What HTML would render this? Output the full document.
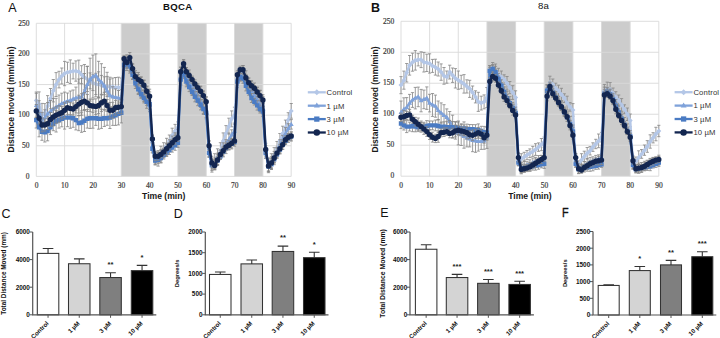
<!DOCTYPE html><html><head><meta charset="utf-8"><style>html,body{margin:0;padding:0;background:#fff;}svg{display:block;}</style></head><body>
<svg width="720" height="338" viewBox="0 0 720 338">
<rect width="720" height="338" fill="#fff"/>
<text x="8.3" y="12.1" font-family='"Liberation Sans", sans-serif' font-size="12.5" font-weight="normal" fill="#111">A</text>
<text x="177.8" y="10.3" font-family='"Liberation Sans", sans-serif' font-size="9.6" font-weight="bold" fill="#111" text-anchor="middle" letter-spacing="0.3">BQCA</text>
<rect x="121.26" y="23.30" width="28.32" height="153.10" fill="#cccccc"/>
<rect x="177.90" y="23.30" width="28.32" height="153.10" fill="#cccccc"/>
<rect x="234.54" y="23.30" width="28.32" height="153.10" fill="#cccccc"/>
<line x1="36.30" y1="176.40" x2="291.18" y2="176.40" stroke="#d9d9d9" stroke-width="0.9"/>
<line x1="36.30" y1="145.78" x2="291.18" y2="145.78" stroke="#d9d9d9" stroke-width="0.9"/>
<line x1="36.30" y1="115.16" x2="291.18" y2="115.16" stroke="#d9d9d9" stroke-width="0.9"/>
<line x1="36.30" y1="84.54" x2="291.18" y2="84.54" stroke="#d9d9d9" stroke-width="0.9"/>
<line x1="36.30" y1="53.92" x2="291.18" y2="53.92" stroke="#d9d9d9" stroke-width="0.9"/>
<line x1="36.30" y1="23.30" x2="291.18" y2="23.30" stroke="#d9d9d9" stroke-width="0.9"/>
<line x1="36.30" y1="176.40" x2="36.30" y2="23.30" stroke="#d9d9d9" stroke-width="0.9"/>
<line x1="64.62" y1="176.40" x2="64.62" y2="23.30" stroke="#d9d9d9" stroke-width="0.9"/>
<line x1="92.94" y1="176.40" x2="92.94" y2="23.30" stroke="#d9d9d9" stroke-width="0.9"/>
<line x1="121.26" y1="176.40" x2="121.26" y2="23.30" stroke="#d9d9d9" stroke-width="0.9"/>
<line x1="149.58" y1="176.40" x2="149.58" y2="23.30" stroke="#d9d9d9" stroke-width="0.9"/>
<line x1="177.90" y1="176.40" x2="177.90" y2="23.30" stroke="#d9d9d9" stroke-width="0.9"/>
<line x1="206.22" y1="176.40" x2="206.22" y2="23.30" stroke="#d9d9d9" stroke-width="0.9"/>
<line x1="234.54" y1="176.40" x2="234.54" y2="23.30" stroke="#d9d9d9" stroke-width="0.9"/>
<line x1="262.86" y1="176.40" x2="262.86" y2="23.30" stroke="#d9d9d9" stroke-width="0.9"/>
<line x1="291.18" y1="176.40" x2="291.18" y2="23.30" stroke="#d9d9d9" stroke-width="0.9"/>
<text x="29.50" y="178.60" font-family='"Liberation Serif", serif' font-size="8.6" fill="#3a3a3a" stroke="#3a3a3a" stroke-width="0.22" text-anchor="end" textLength="3.75" lengthAdjust="spacingAndGlyphs">0</text>
<text x="29.50" y="147.98" font-family='"Liberation Serif", serif' font-size="8.6" fill="#3a3a3a" stroke="#3a3a3a" stroke-width="0.22" text-anchor="end" textLength="7.50" lengthAdjust="spacingAndGlyphs">50</text>
<text x="29.50" y="117.36" font-family='"Liberation Serif", serif' font-size="8.6" fill="#3a3a3a" stroke="#3a3a3a" stroke-width="0.22" text-anchor="end" textLength="11.25" lengthAdjust="spacingAndGlyphs">100</text>
<text x="29.50" y="86.74" font-family='"Liberation Serif", serif' font-size="8.6" fill="#3a3a3a" stroke="#3a3a3a" stroke-width="0.22" text-anchor="end" textLength="11.25" lengthAdjust="spacingAndGlyphs">150</text>
<text x="29.50" y="56.12" font-family='"Liberation Serif", serif' font-size="8.6" fill="#3a3a3a" stroke="#3a3a3a" stroke-width="0.22" text-anchor="end" textLength="11.25" lengthAdjust="spacingAndGlyphs">200</text>
<text x="29.50" y="25.50" font-family='"Liberation Serif", serif' font-size="8.6" fill="#3a3a3a" stroke="#3a3a3a" stroke-width="0.22" text-anchor="end" textLength="11.25" lengthAdjust="spacingAndGlyphs">250</text>
<text x="36.50" y="187.80" font-family='"Liberation Serif", serif' font-size="8.6" fill="#3a3a3a" stroke="#3a3a3a" stroke-width="0.22" text-anchor="middle" textLength="3.75" lengthAdjust="spacingAndGlyphs">0</text>
<text x="64.82" y="187.80" font-family='"Liberation Serif", serif' font-size="8.6" fill="#3a3a3a" stroke="#3a3a3a" stroke-width="0.22" text-anchor="middle" textLength="7.50" lengthAdjust="spacingAndGlyphs">10</text>
<text x="93.14" y="187.80" font-family='"Liberation Serif", serif' font-size="8.6" fill="#3a3a3a" stroke="#3a3a3a" stroke-width="0.22" text-anchor="middle" textLength="7.50" lengthAdjust="spacingAndGlyphs">20</text>
<text x="121.46" y="187.80" font-family='"Liberation Serif", serif' font-size="8.6" fill="#3a3a3a" stroke="#3a3a3a" stroke-width="0.22" text-anchor="middle" textLength="7.50" lengthAdjust="spacingAndGlyphs">30</text>
<text x="149.78" y="187.80" font-family='"Liberation Serif", serif' font-size="8.6" fill="#3a3a3a" stroke="#3a3a3a" stroke-width="0.22" text-anchor="middle" textLength="7.50" lengthAdjust="spacingAndGlyphs">40</text>
<text x="178.10" y="187.80" font-family='"Liberation Serif", serif' font-size="8.6" fill="#3a3a3a" stroke="#3a3a3a" stroke-width="0.22" text-anchor="middle" textLength="7.50" lengthAdjust="spacingAndGlyphs">50</text>
<text x="206.42" y="187.80" font-family='"Liberation Serif", serif' font-size="8.6" fill="#3a3a3a" stroke="#3a3a3a" stroke-width="0.22" text-anchor="middle" textLength="7.50" lengthAdjust="spacingAndGlyphs">60</text>
<text x="234.74" y="187.80" font-family='"Liberation Serif", serif' font-size="8.6" fill="#3a3a3a" stroke="#3a3a3a" stroke-width="0.22" text-anchor="middle" textLength="7.50" lengthAdjust="spacingAndGlyphs">70</text>
<text x="263.06" y="187.80" font-family='"Liberation Serif", serif' font-size="8.6" fill="#3a3a3a" stroke="#3a3a3a" stroke-width="0.22" text-anchor="middle" textLength="7.50" lengthAdjust="spacingAndGlyphs">80</text>
<text x="291.38" y="187.80" font-family='"Liberation Serif", serif' font-size="8.6" fill="#3a3a3a" stroke="#3a3a3a" stroke-width="0.22" text-anchor="middle" textLength="7.50" lengthAdjust="spacingAndGlyphs">90</text>
<text x="163.74" y="199.2" font-family='"Liberation Sans", sans-serif' font-size="8.6" font-weight="bold" fill="#1a1a1a" text-anchor="middle">Time (min)</text>
<text transform="translate(13.6,99.4) rotate(-90)" font-family='"Liberation Sans", sans-serif' font-size="8.7" font-weight="bold" fill="#1a1a1a" text-anchor="middle" textLength="106" lengthAdjust="spacingAndGlyphs">Distance moved (mm/min)</text>
<path d="M36.3,109.0V92.0M34.7,92.0h3.2M34.7,109.0h3.2M39.1,116.4V91.9M37.5,91.9h3.2M37.5,116.4h3.2M42.0,126.9V103.4M40.4,103.4h3.2M40.4,126.9h3.2M44.8,121.8V103.6M43.2,103.6h3.2M43.2,121.8h3.2M47.6,116.4V95.6M46.0,95.6h3.2M46.0,116.4h3.2M50.5,108.8V88.5M48.9,88.5h3.2M48.9,108.8h3.2M53.3,101.9V79.5M51.7,79.5h3.2M51.7,101.9h3.2M56.1,96.5V72.6M54.5,72.6h3.2M54.5,96.5h3.2M59.0,87.9V71.3M57.4,71.3h3.2M57.4,87.9h3.2M61.8,83.9V68.0M60.2,68.0h3.2M60.2,83.9h3.2M64.6,85.7V61.4M63.0,61.4h3.2M63.0,85.7h3.2M67.5,82.4V62.2M65.9,62.2h3.2M65.9,82.4h3.2M70.3,83.5V59.9M68.7,59.9h3.2M68.7,83.5h3.2M73.1,78.9V63.2M71.5,63.2h3.2M71.5,78.9h3.2M75.9,81.2V60.9M74.3,60.9h3.2M74.3,81.2h3.2M78.8,83.2V60.1M77.2,60.1h3.2M77.2,83.2h3.2M81.6,83.7V65.7M80.0,65.7h3.2M80.0,83.7h3.2M84.4,89.9V64.5M82.8,64.5h3.2M82.8,89.9h3.2M87.3,91.5V66.5M85.7,66.5h3.2M85.7,91.5h3.2M90.1,88.8V72.9M88.5,72.9h3.2M88.5,88.8h3.2M92.9,90.6V74.8M91.3,74.8h3.2M91.3,90.6h3.2M95.8,94.6V73.3M94.2,73.3h3.2M94.2,94.6h3.2M98.6,97.2V71.8M97.0,71.8h3.2M97.0,97.2h3.2M101.4,94.9V75.4M99.8,75.4h3.2M99.8,94.9h3.2M104.3,94.7V76.8M102.7,76.8h3.2M102.7,94.7h3.2M107.1,96.4V76.4M105.5,76.4h3.2M105.5,96.4h3.2M109.9,94.9V79.0M108.3,79.0h3.2M108.3,94.9h3.2M112.8,96.0V78.0M111.2,78.0h3.2M111.2,96.0h3.2M115.6,97.7V77.5M114.0,77.5h3.2M114.0,97.7h3.2M118.4,98.0V77.2M116.8,77.2h3.2M116.8,98.0h3.2M121.3,96.0V78.0M119.7,78.0h3.2M119.7,96.0h3.2M124.1,67.8V57.2M122.5,57.2h3.2M122.5,67.8h3.2M126.9,65.3V54.8M125.3,54.8h3.2M125.3,65.3h3.2M129.8,67.3V55.3M128.2,55.3h3.2M128.2,67.3h3.2M132.6,74.7V63.7M131.0,63.7h3.2M131.0,74.7h3.2M135.4,80.0V70.7M133.8,70.7h3.2M133.8,80.0h3.2M138.3,86.8V72.5M136.7,72.5h3.2M136.7,86.8h3.2M141.1,89.6V77.0M139.5,77.0h3.2M139.5,89.6h3.2M143.9,93.5V80.4M142.3,80.4h3.2M142.3,93.5h3.2M146.7,97.1V86.7M145.1,86.7h3.2M145.1,97.1h3.2M149.6,104.4V89.2M148.0,89.2h3.2M148.0,104.4h3.2M152.4,149.9V135.5M150.8,135.5h3.2M150.8,149.9h3.2M155.2,163.0V153.1M153.6,153.1h3.2M153.6,163.0h3.2M158.1,161.8V150.6M156.5,150.6h3.2M156.5,161.8h3.2M160.9,159.9V146.3M159.3,146.3h3.2M159.3,159.9h3.2M163.7,156.2V142.7M162.1,142.7h3.2M162.1,156.2h3.2M166.6,153.2V138.3M165.0,138.3h3.2M165.0,153.2h3.2M169.4,146.8V135.0M167.8,135.0h3.2M167.8,146.8h3.2M172.2,142.5V128.2M170.6,128.2h3.2M170.6,142.5h3.2M175.1,137.7V124.4M173.5,124.4h3.2M173.5,137.7h3.2M177.9,132.9V121.9M176.3,121.9h3.2M176.3,132.9h3.2M180.7,79.9V67.1M179.1,67.1h3.2M179.1,79.9h3.2M183.6,74.7V60.1M182.0,60.1h3.2M182.0,74.7h3.2M186.4,81.9V67.6M184.8,67.6h3.2M184.8,81.9h3.2M189.2,84.6V72.3M187.6,72.3h3.2M187.6,84.6h3.2M192.1,89.7V76.9M190.5,76.9h3.2M190.5,89.7h3.2M194.9,91.1V81.7M193.3,81.7h3.2M193.3,91.1h3.2M197.7,94.8V84.1M196.1,84.1h3.2M196.1,94.8h3.2M200.6,100.1V86.1M199.0,86.1h3.2M199.0,100.1h3.2M203.4,102.6V90.9M201.8,90.9h3.2M201.8,102.6h3.2M206.2,106.8V96.6M204.6,96.6h3.2M204.6,106.8h3.2M209.1,156.8V140.9M207.5,140.9h3.2M207.5,156.8h3.2M211.9,172.1V156.2M210.3,156.2h3.2M210.3,172.1h3.2M214.7,169.7V153.7M213.1,153.7h3.2M213.1,169.7h3.2M217.5,164.8V148.8M215.9,148.8h3.2M215.9,164.8h3.2M220.4,158.6V142.7M218.8,142.7h3.2M218.8,158.6h3.2M223.2,148.8V132.9M221.6,132.9h3.2M221.6,148.8h3.2M226.0,141.5V125.6M224.4,125.6h3.2M224.4,141.5h3.2M228.9,134.1V118.2M227.3,118.2h3.2M227.3,134.1h3.2M231.7,126.8V110.9M230.1,110.9h3.2M230.1,126.8h3.2M234.5,123.1V107.2M232.9,107.2h3.2M232.9,123.1h3.2M237.4,83.1V73.7M235.8,73.7h3.2M235.8,83.1h3.2M240.2,77.0V67.6M238.6,67.6h3.2M238.6,77.0h3.2M243.0,79.0V65.5M241.4,65.5h3.2M241.4,79.0h3.2M245.9,86.0V70.8M244.3,70.8h3.2M244.3,86.0h3.2M248.7,90.9V78.1M247.1,78.1h3.2M247.1,90.9h3.2M251.5,93.4V81.8M249.9,81.8h3.2M249.9,93.4h3.2M254.4,95.8V85.5M252.8,85.5h3.2M252.8,95.8h3.2M257.2,99.9V87.6M255.6,87.6h3.2M255.6,99.9h3.2M260.0,105.6V90.4M258.4,90.4h3.2M258.4,105.6h3.2M262.9,108.6V94.7M261.3,94.7h3.2M261.3,108.6h3.2M265.7,158.0V143.3M264.1,143.3h3.2M264.1,158.0h3.2M268.5,172.7V158.0M266.9,158.0h3.2M266.9,172.7h3.2M271.4,168.4V153.7M269.8,153.7h3.2M269.8,168.4h3.2M274.2,162.3V147.6M272.6,147.6h3.2M272.6,162.3h3.2M277.0,156.2V141.5M275.4,141.5h3.2M275.4,156.2h3.2M279.9,148.2V133.5M278.3,133.5h3.2M278.3,148.2h3.2M282.7,140.9V126.2M281.1,126.2h3.2M281.1,140.9h3.2M285.5,134.8V120.1M283.9,120.1h3.2M283.9,134.8h3.2M288.3,127.4V112.7M286.7,112.7h3.2M286.7,127.4h3.2M291.2,118.2V103.5M289.6,103.5h3.2M289.6,118.2h3.2" stroke="#858585" stroke-width="0.8" fill="none"/>
<polyline points="36.3,100.5 39.1,104.1 42.0,115.2 44.8,112.7 47.6,106.0 50.5,98.6 53.3,90.7 56.1,84.5 59.0,79.6 61.8,76.0 64.6,73.5 67.5,72.3 70.3,71.7 73.1,71.1 75.9,71.1 78.8,71.7 81.6,74.7 84.4,77.2 87.3,79.0 90.1,80.9 92.9,82.7 95.8,83.9 98.6,84.5 101.4,85.2 104.3,85.8 107.1,86.4 109.9,87.0 112.8,87.0 115.6,87.6 118.4,87.6 121.3,87.0 124.1,62.5 126.9,60.0 129.8,61.3 132.6,69.2 135.4,75.4 138.3,79.6 141.1,83.3 143.9,87.0 146.7,91.9 149.6,96.8 152.4,142.7 155.2,158.0 158.1,156.2 160.9,153.1 163.7,149.5 166.6,145.8 169.4,140.9 172.2,135.4 175.1,131.1 177.9,127.4 180.7,73.5 183.6,67.4 186.4,74.7 189.2,78.4 192.1,83.3 194.9,86.4 197.7,89.4 200.6,93.1 203.4,96.8 206.2,101.7 209.1,148.8 211.9,164.2 214.7,161.7 217.5,156.8 220.4,150.7 223.2,140.9 226.0,133.5 228.9,126.2 231.7,118.8 234.5,115.2 237.4,78.4 240.2,72.3 243.0,72.3 245.9,78.4 248.7,84.5 251.5,87.6 254.4,90.7 257.2,93.7 260.0,98.0 262.9,101.7 265.7,150.7 268.5,165.4 271.4,161.1 274.2,155.0 277.0,148.8 279.9,140.9 282.7,133.5 285.5,127.4 288.3,120.1 291.2,110.9" fill="none" stroke="#b4c7e7" stroke-width="2.4" stroke-linejoin="round"/>
<path d="M36.3,98.0l2.5,2.5l-2.5,2.5l-2.5,-2.5zM39.1,101.6l2.5,2.5l-2.5,2.5l-2.5,-2.5zM42.0,112.7l2.5,2.5l-2.5,2.5l-2.5,-2.5zM44.8,110.2l2.5,2.5l-2.5,2.5l-2.5,-2.5zM47.6,103.5l2.5,2.5l-2.5,2.5l-2.5,-2.5zM50.5,96.1l2.5,2.5l-2.5,2.5l-2.5,-2.5zM53.3,88.2l2.5,2.5l-2.5,2.5l-2.5,-2.5zM56.1,82.0l2.5,2.5l-2.5,2.5l-2.5,-2.5zM59.0,77.1l2.5,2.5l-2.5,2.5l-2.5,-2.5zM61.8,73.5l2.5,2.5l-2.5,2.5l-2.5,-2.5zM64.6,71.0l2.5,2.5l-2.5,2.5l-2.5,-2.5zM67.5,69.8l2.5,2.5l-2.5,2.5l-2.5,-2.5zM70.3,69.2l2.5,2.5l-2.5,2.5l-2.5,-2.5zM73.1,68.6l2.5,2.5l-2.5,2.5l-2.5,-2.5zM75.9,68.6l2.5,2.5l-2.5,2.5l-2.5,-2.5zM78.8,69.2l2.5,2.5l-2.5,2.5l-2.5,-2.5zM81.6,72.2l2.5,2.5l-2.5,2.5l-2.5,-2.5zM84.4,74.7l2.5,2.5l-2.5,2.5l-2.5,-2.5zM87.3,76.5l2.5,2.5l-2.5,2.5l-2.5,-2.5zM90.1,78.4l2.5,2.5l-2.5,2.5l-2.5,-2.5zM92.9,80.2l2.5,2.5l-2.5,2.5l-2.5,-2.5zM95.8,81.4l2.5,2.5l-2.5,2.5l-2.5,-2.5zM98.6,82.0l2.5,2.5l-2.5,2.5l-2.5,-2.5zM101.4,82.7l2.5,2.5l-2.5,2.5l-2.5,-2.5zM104.3,83.3l2.5,2.5l-2.5,2.5l-2.5,-2.5zM107.1,83.9l2.5,2.5l-2.5,2.5l-2.5,-2.5zM109.9,84.5l2.5,2.5l-2.5,2.5l-2.5,-2.5zM112.8,84.5l2.5,2.5l-2.5,2.5l-2.5,-2.5zM115.6,85.1l2.5,2.5l-2.5,2.5l-2.5,-2.5zM118.4,85.1l2.5,2.5l-2.5,2.5l-2.5,-2.5zM121.3,84.5l2.5,2.5l-2.5,2.5l-2.5,-2.5zM124.1,60.0l2.5,2.5l-2.5,2.5l-2.5,-2.5zM126.9,57.5l2.5,2.5l-2.5,2.5l-2.5,-2.5zM129.8,58.8l2.5,2.5l-2.5,2.5l-2.5,-2.5zM132.6,66.7l2.5,2.5l-2.5,2.5l-2.5,-2.5zM135.4,72.9l2.5,2.5l-2.5,2.5l-2.5,-2.5zM138.3,77.1l2.5,2.5l-2.5,2.5l-2.5,-2.5zM141.1,80.8l2.5,2.5l-2.5,2.5l-2.5,-2.5zM143.9,84.5l2.5,2.5l-2.5,2.5l-2.5,-2.5zM146.7,89.4l2.5,2.5l-2.5,2.5l-2.5,-2.5zM149.6,94.3l2.5,2.5l-2.5,2.5l-2.5,-2.5zM152.4,140.2l2.5,2.5l-2.5,2.5l-2.5,-2.5zM155.2,155.5l2.5,2.5l-2.5,2.5l-2.5,-2.5zM158.1,153.7l2.5,2.5l-2.5,2.5l-2.5,-2.5zM160.9,150.6l2.5,2.5l-2.5,2.5l-2.5,-2.5zM163.7,147.0l2.5,2.5l-2.5,2.5l-2.5,-2.5zM166.6,143.3l2.5,2.5l-2.5,2.5l-2.5,-2.5zM169.4,138.4l2.5,2.5l-2.5,2.5l-2.5,-2.5zM172.2,132.9l2.5,2.5l-2.5,2.5l-2.5,-2.5zM175.1,128.6l2.5,2.5l-2.5,2.5l-2.5,-2.5zM177.9,124.9l2.5,2.5l-2.5,2.5l-2.5,-2.5zM180.7,71.0l2.5,2.5l-2.5,2.5l-2.5,-2.5zM183.6,64.9l2.5,2.5l-2.5,2.5l-2.5,-2.5zM186.4,72.2l2.5,2.5l-2.5,2.5l-2.5,-2.5zM189.2,75.9l2.5,2.5l-2.5,2.5l-2.5,-2.5zM192.1,80.8l2.5,2.5l-2.5,2.5l-2.5,-2.5zM194.9,83.9l2.5,2.5l-2.5,2.5l-2.5,-2.5zM197.7,86.9l2.5,2.5l-2.5,2.5l-2.5,-2.5zM200.6,90.6l2.5,2.5l-2.5,2.5l-2.5,-2.5zM203.4,94.3l2.5,2.5l-2.5,2.5l-2.5,-2.5zM206.2,99.2l2.5,2.5l-2.5,2.5l-2.5,-2.5zM209.1,146.3l2.5,2.5l-2.5,2.5l-2.5,-2.5zM211.9,161.7l2.5,2.5l-2.5,2.5l-2.5,-2.5zM214.7,159.2l2.5,2.5l-2.5,2.5l-2.5,-2.5zM217.5,154.3l2.5,2.5l-2.5,2.5l-2.5,-2.5zM220.4,148.2l2.5,2.5l-2.5,2.5l-2.5,-2.5zM223.2,138.4l2.5,2.5l-2.5,2.5l-2.5,-2.5zM226.0,131.0l2.5,2.5l-2.5,2.5l-2.5,-2.5zM228.9,123.7l2.5,2.5l-2.5,2.5l-2.5,-2.5zM231.7,116.3l2.5,2.5l-2.5,2.5l-2.5,-2.5zM234.5,112.7l2.5,2.5l-2.5,2.5l-2.5,-2.5zM237.4,75.9l2.5,2.5l-2.5,2.5l-2.5,-2.5zM240.2,69.8l2.5,2.5l-2.5,2.5l-2.5,-2.5zM243.0,69.8l2.5,2.5l-2.5,2.5l-2.5,-2.5zM245.9,75.9l2.5,2.5l-2.5,2.5l-2.5,-2.5zM248.7,82.0l2.5,2.5l-2.5,2.5l-2.5,-2.5zM251.5,85.1l2.5,2.5l-2.5,2.5l-2.5,-2.5zM254.4,88.2l2.5,2.5l-2.5,2.5l-2.5,-2.5zM257.2,91.2l2.5,2.5l-2.5,2.5l-2.5,-2.5zM260.0,95.5l2.5,2.5l-2.5,2.5l-2.5,-2.5zM262.9,99.2l2.5,2.5l-2.5,2.5l-2.5,-2.5zM265.7,148.2l2.5,2.5l-2.5,2.5l-2.5,-2.5zM268.5,162.9l2.5,2.5l-2.5,2.5l-2.5,-2.5zM271.4,158.6l2.5,2.5l-2.5,2.5l-2.5,-2.5zM274.2,152.5l2.5,2.5l-2.5,2.5l-2.5,-2.5zM277.0,146.3l2.5,2.5l-2.5,2.5l-2.5,-2.5zM279.9,138.4l2.5,2.5l-2.5,2.5l-2.5,-2.5zM282.7,131.0l2.5,2.5l-2.5,2.5l-2.5,-2.5zM285.5,124.9l2.5,2.5l-2.5,2.5l-2.5,-2.5zM288.3,117.6l2.5,2.5l-2.5,2.5l-2.5,-2.5zM291.2,108.4l2.5,2.5l-2.5,2.5l-2.5,-2.5z" fill="#b4c7e7"/>
<path d="M36.3,117.4V93.3M34.7,93.3h3.2M34.7,117.4h3.2M39.1,124.7V100.7M37.5,100.7h3.2M37.5,124.7h3.2M42.0,127.7V112.4M40.4,112.4h3.2M40.4,127.7h3.2M44.8,125.4V109.8M43.2,109.8h3.2M43.2,125.4h3.2M47.6,125.4V102.5M46.0,102.5h3.2M46.0,125.4h3.2M50.5,122.4V100.5M48.9,100.5h3.2M48.9,122.4h3.2M53.3,119.7V98.4M51.7,98.4h3.2M51.7,119.7h3.2M56.1,116.1V98.3M54.5,98.3h3.2M54.5,116.1h3.2M59.0,115.7V95.0M57.4,95.0h3.2M57.4,115.7h3.2M61.8,113.8V93.2M60.2,93.2h3.2M60.2,113.8h3.2M64.6,112.5V92.1M63.0,92.1h3.2M63.0,112.5h3.2M67.5,109.2V93.0M65.9,93.0h3.2M65.9,109.2h3.2M70.3,109.9V91.0M68.7,91.0h3.2M68.7,109.9h3.2M73.1,108.5V90.0M71.5,90.0h3.2M71.5,108.5h3.2M75.9,108.9V87.1M74.3,87.1h3.2M74.3,108.9h3.2M78.8,115.8V79.0M77.2,79.0h3.2M77.2,115.8h3.2M81.6,115.2V78.4M80.0,78.4h3.2M80.0,115.2h3.2M84.4,110.3V73.5M82.8,73.5h3.2M82.8,110.3h3.2M87.3,102.9V66.2M85.7,66.2h3.2M85.7,102.9h3.2M90.1,101.1V58.2M88.5,58.2h3.2M88.5,101.1h3.2M92.9,98.0V55.1M91.3,55.1h3.2M91.3,98.0h3.2M95.8,96.8V53.9M94.2,53.9h3.2M94.2,96.8h3.2M98.6,98.0V61.3M97.0,61.3h3.2M97.0,98.0h3.2M101.4,100.5V63.7M99.8,63.7h3.2M99.8,100.5h3.2M104.3,104.1V67.4M102.7,67.4h3.2M102.7,104.1h3.2M107.1,109.0V72.3M105.5,72.3h3.2M105.5,109.0h3.2M109.9,113.9V77.2M108.3,77.2h3.2M108.3,113.9h3.2M112.8,106.9V86.7M111.2,86.7h3.2M111.2,106.9h3.2M115.6,105.9V88.9M114.0,88.9h3.2M114.0,105.9h3.2M118.4,105.5V90.5M116.8,90.5h3.2M116.8,105.5h3.2M121.3,107.6V89.7M119.7,89.7h3.2M119.7,107.6h3.2M124.1,70.7V61.7M122.5,61.7h3.2M122.5,70.7h3.2M126.9,70.5V59.4M125.3,59.4h3.2M125.3,70.5h3.2M129.8,73.1V59.3M128.2,59.3h3.2M128.2,73.1h3.2M132.6,79.5V67.5M131.0,67.5h3.2M131.0,79.5h3.2M135.4,86.1V76.8M133.8,76.8h3.2M133.8,86.1h3.2M138.3,93.6V80.4M136.7,80.4h3.2M136.7,93.6h3.2M141.1,98.2V85.6M139.5,85.6h3.2M139.5,98.2h3.2M143.9,102.9V90.6M142.3,90.6h3.2M142.3,102.9h3.2M146.7,108.3V95.1M145.1,95.1h3.2M145.1,108.3h3.2M149.6,111.6V99.1M148.0,99.1h3.2M148.0,111.6h3.2M152.4,152.1V139.5M150.8,139.5h3.2M150.8,152.1h3.2M155.2,164.4V154.1M153.6,154.1h3.2M153.6,164.4h3.2M158.1,166.1V152.4M156.5,152.4h3.2M156.5,166.1h3.2M160.9,163.0V149.4M159.3,149.4h3.2M159.3,163.0h3.2M163.7,157.7V148.6M162.1,148.6h3.2M162.1,157.7h3.2M166.6,155.7V143.2M165.0,143.2h3.2M165.0,155.7h3.2M169.4,151.9V139.7M167.8,139.7h3.2M167.8,151.9h3.2M172.2,146.9V136.1M170.6,136.1h3.2M170.6,146.9h3.2M175.1,144.0V132.8M173.5,132.8h3.2M173.5,144.0h3.2M177.9,140.2V129.3M176.3,129.3h3.2M176.3,140.2h3.2M180.7,85.1V71.7M179.1,71.7h3.2M179.1,85.1h3.2M183.6,76.6V65.6M182.0,65.6h3.2M182.0,76.6h3.2M186.4,84.8V72.0M184.8,72.0h3.2M184.8,84.8h3.2M189.2,88.4V78.2M187.6,78.2h3.2M187.6,88.4h3.2M192.1,94.2V81.0M190.5,81.0h3.2M190.5,94.2h3.2M194.9,98.5V85.3M193.3,85.3h3.2M193.3,98.5h3.2M197.7,102.2V91.4M196.1,91.4h3.2M196.1,102.2h3.2M200.6,107.4V96.0M199.0,96.0h3.2M199.0,107.4h3.2M203.4,114.5V101.1M201.8,101.1h3.2M201.8,114.5h3.2M206.2,118.8V106.6M204.6,106.6h3.2M204.6,118.8h3.2M209.1,157.4V146.4M207.5,146.4h3.2M207.5,157.4h3.2M211.9,168.9V159.4M210.3,159.4h3.2M210.3,168.9h3.2M214.7,168.0V157.9M213.1,157.9h3.2M213.1,168.0h3.2M217.5,165.3V153.2M215.9,153.2h3.2M215.9,165.3h3.2M220.4,158.9V149.8M218.8,149.8h3.2M218.8,158.9h3.2M223.2,156.1V142.8M221.6,142.8h3.2M221.6,156.1h3.2M226.0,149.4V139.7M224.4,139.7h3.2M224.4,149.4h3.2M228.9,146.3V133.0M227.3,133.0h3.2M227.3,146.3h3.2M231.7,139.7V129.8M230.1,129.8h3.2M230.1,139.7h3.2M234.5,137.9V124.3M232.9,124.3h3.2M232.9,137.9h3.2M237.4,87.6V75.4M235.8,75.4h3.2M235.8,87.6h3.2M240.2,80.9V69.8M238.6,69.8h3.2M238.6,80.9h3.2M243.0,80.3V69.2M241.4,69.2h3.2M241.4,80.3h3.2M245.9,87.4V75.5M244.3,75.5h3.2M244.3,87.4h3.2M248.7,92.7V81.2M247.1,81.2h3.2M247.1,92.7h3.2M251.5,95.7V85.7M249.9,85.7h3.2M249.9,95.7h3.2M254.4,100.3V90.9M252.8,90.9h3.2M252.8,100.3h3.2M257.2,105.4V94.3M255.6,94.3h3.2M255.6,105.4h3.2M260.0,111.5V98.0M258.4,98.0h3.2M258.4,111.5h3.2M262.9,114.9V103.2M261.3,103.2h3.2M261.3,114.9h3.2M265.7,156.2V147.6M264.1,147.6h3.2M264.1,156.2h3.2M268.5,171.8V159.0M266.9,159.0h3.2M266.9,171.8h3.2M271.4,169.1V156.8M269.8,156.8h3.2M269.8,169.1h3.2M274.2,164.7V151.4M272.6,151.4h3.2M272.6,164.7h3.2M277.0,156.6V147.2M275.4,147.2h3.2M275.4,156.6h3.2M279.9,152.0V139.6M278.3,139.6h3.2M278.3,152.0h3.2M282.7,144.0V135.4M281.1,135.4h3.2M281.1,144.0h3.2M285.5,139.5V127.6M283.9,127.6h3.2M283.9,139.5h3.2M288.3,133.5V123.7M286.7,123.7h3.2M286.7,133.5h3.2M291.2,129.1V119.6M289.6,119.6h3.2M289.6,129.1h3.2" stroke="#858585" stroke-width="0.8" fill="none"/>
<polyline points="36.3,105.4 39.1,112.7 42.0,120.1 44.8,117.6 47.6,113.9 50.5,111.5 53.3,109.0 56.1,107.2 59.0,105.4 61.8,103.5 64.6,102.3 67.5,101.1 70.3,100.5 73.1,99.2 75.9,98.0 78.8,97.4 81.6,96.8 84.4,91.9 87.3,84.5 90.1,79.6 92.9,76.6 95.8,75.4 98.6,79.6 101.4,82.1 104.3,85.8 107.1,90.7 109.9,95.6 112.8,96.8 115.6,97.4 118.4,98.0 121.3,98.6 124.1,66.2 126.9,64.9 129.8,66.2 132.6,73.5 135.4,81.5 138.3,87.0 141.1,91.9 143.9,96.8 146.7,101.7 149.6,105.4 152.4,145.8 155.2,159.3 158.1,159.3 160.9,156.2 163.7,153.1 166.6,149.5 169.4,145.8 172.2,141.5 175.1,138.4 177.9,134.8 180.7,78.4 183.6,71.1 186.4,78.4 189.2,83.3 192.1,87.6 194.9,91.9 197.7,96.8 200.6,101.7 203.4,107.8 206.2,112.7 209.1,151.9 211.9,164.2 214.7,162.9 217.5,159.3 220.4,154.4 223.2,149.5 226.0,144.6 228.9,139.7 231.7,134.8 234.5,131.1 237.4,81.5 240.2,75.4 243.0,74.7 245.9,81.5 248.7,87.0 251.5,90.7 254.4,95.6 257.2,99.9 260.0,104.7 262.9,109.0 265.7,151.9 268.5,165.4 271.4,162.9 274.2,158.0 277.0,151.9 279.9,145.8 282.7,139.7 285.5,133.5 288.3,128.6 291.2,124.3" fill="none" stroke="#7fa2da" stroke-width="2.4" stroke-linejoin="round"/>
<path d="M36.3,102.8l2.5,4.2h-4.9zM39.1,110.1l2.5,4.2h-4.9zM42.0,117.5l2.5,4.2h-4.9zM44.8,115.0l2.5,4.2h-4.9zM47.6,111.3l2.5,4.2h-4.9zM50.5,108.9l2.5,4.2h-4.9zM53.3,106.4l2.5,4.2h-4.9zM56.1,104.6l2.5,4.2h-4.9zM59.0,102.8l2.5,4.2h-4.9zM61.8,100.9l2.5,4.2h-4.9zM64.6,99.7l2.5,4.2h-4.9zM67.5,98.5l2.5,4.2h-4.9zM70.3,97.9l2.5,4.2h-4.9zM73.1,96.6l2.5,4.2h-4.9zM75.9,95.4l2.5,4.2h-4.9zM78.8,94.8l2.5,4.2h-4.9zM81.6,94.2l2.5,4.2h-4.9zM84.4,89.3l2.5,4.2h-4.9zM87.3,81.9l2.5,4.2h-4.9zM90.1,77.0l2.5,4.2h-4.9zM92.9,74.0l2.5,4.2h-4.9zM95.8,72.8l2.5,4.2h-4.9zM98.6,77.0l2.5,4.2h-4.9zM101.4,79.5l2.5,4.2h-4.9zM104.3,83.2l2.5,4.2h-4.9zM107.1,88.1l2.5,4.2h-4.9zM109.9,93.0l2.5,4.2h-4.9zM112.8,94.2l2.5,4.2h-4.9zM115.6,94.8l2.5,4.2h-4.9zM118.4,95.4l2.5,4.2h-4.9zM121.3,96.0l2.5,4.2h-4.9zM124.1,63.6l2.5,4.2h-4.9zM126.9,62.3l2.5,4.2h-4.9zM129.8,63.6l2.5,4.2h-4.9zM132.6,70.9l2.5,4.2h-4.9zM135.4,78.9l2.5,4.2h-4.9zM138.3,84.4l2.5,4.2h-4.9zM141.1,89.3l2.5,4.2h-4.9zM143.9,94.2l2.5,4.2h-4.9zM146.7,99.1l2.5,4.2h-4.9zM149.6,102.8l2.5,4.2h-4.9zM152.4,143.2l2.5,4.2h-4.9zM155.2,156.7l2.5,4.2h-4.9zM158.1,156.7l2.5,4.2h-4.9zM160.9,153.6l2.5,4.2h-4.9zM163.7,150.5l2.5,4.2h-4.9zM166.6,146.9l2.5,4.2h-4.9zM169.4,143.2l2.5,4.2h-4.9zM172.2,138.9l2.5,4.2h-4.9zM175.1,135.8l2.5,4.2h-4.9zM177.9,132.2l2.5,4.2h-4.9zM180.7,75.8l2.5,4.2h-4.9zM183.6,68.5l2.5,4.2h-4.9zM186.4,75.8l2.5,4.2h-4.9zM189.2,80.7l2.5,4.2h-4.9zM192.1,85.0l2.5,4.2h-4.9zM194.9,89.3l2.5,4.2h-4.9zM197.7,94.2l2.5,4.2h-4.9zM200.6,99.1l2.5,4.2h-4.9zM203.4,105.2l2.5,4.2h-4.9zM206.2,110.1l2.5,4.2h-4.9zM209.1,149.3l2.5,4.2h-4.9zM211.9,161.6l2.5,4.2h-4.9zM214.7,160.3l2.5,4.2h-4.9zM217.5,156.7l2.5,4.2h-4.9zM220.4,151.8l2.5,4.2h-4.9zM223.2,146.9l2.5,4.2h-4.9zM226.0,142.0l2.5,4.2h-4.9zM228.9,137.1l2.5,4.2h-4.9zM231.7,132.2l2.5,4.2h-4.9zM234.5,128.5l2.5,4.2h-4.9zM237.4,78.9l2.5,4.2h-4.9zM240.2,72.8l2.5,4.2h-4.9zM243.0,72.1l2.5,4.2h-4.9zM245.9,78.9l2.5,4.2h-4.9zM248.7,84.4l2.5,4.2h-4.9zM251.5,88.1l2.5,4.2h-4.9zM254.4,93.0l2.5,4.2h-4.9zM257.2,97.3l2.5,4.2h-4.9zM260.0,102.1l2.5,4.2h-4.9zM262.9,106.4l2.5,4.2h-4.9zM265.7,149.3l2.5,4.2h-4.9zM268.5,162.8l2.5,4.2h-4.9zM271.4,160.3l2.5,4.2h-4.9zM274.2,155.4l2.5,4.2h-4.9zM277.0,149.3l2.5,4.2h-4.9zM279.9,143.2l2.5,4.2h-4.9zM282.7,137.1l2.5,4.2h-4.9zM285.5,130.9l2.5,4.2h-4.9zM288.3,126.0l2.5,4.2h-4.9zM291.2,121.7l2.5,4.2h-4.9z" fill="#7fa2da"/>
<path d="M36.3,128.0V112.1M34.7,112.1h3.2M34.7,128.0h3.2M39.1,136.8V118.0M37.5,118.0h3.2M37.5,136.8h3.2M42.0,140.3V123.1M40.4,123.1h3.2M40.4,140.3h3.2M44.8,142.0V122.6M43.2,122.6h3.2M43.2,142.0h3.2M47.6,140.8V121.3M46.0,121.3h3.2M46.0,140.8h3.2M50.5,134.6V120.2M48.9,120.2h3.2M48.9,134.6h3.2M53.3,130.7V116.8M51.7,116.8h3.2M51.7,130.7h3.2M56.1,132.0V110.5M54.5,110.5h3.2M54.5,132.0h3.2M59.0,128.1V112.0M57.4,112.0h3.2M57.4,128.1h3.2M61.8,126.8V110.9M60.2,110.9h3.2M60.2,126.8h3.2M64.6,129.1V106.1M63.0,106.1h3.2M63.0,129.1h3.2M67.5,126.7V108.6M65.9,108.6h3.2M65.9,126.7h3.2M70.3,128.3V106.9M68.7,106.9h3.2M68.7,128.3h3.2M73.1,127.3V109.1M71.5,109.1h3.2M71.5,127.3h3.2M75.9,129.9V110.2M74.3,110.2h3.2M74.3,129.9h3.2M78.8,130.7V115.5M77.2,115.5h3.2M77.2,130.7h3.2M81.6,132.3V112.7M80.0,112.7h3.2M80.0,132.3h3.2M84.4,131.5V109.8M82.8,109.8h3.2M82.8,131.5h3.2M87.3,128.1V109.5M85.7,109.5h3.2M85.7,128.1h3.2M90.1,128.5V107.9M88.5,107.9h3.2M88.5,128.5h3.2M92.9,128.2V108.2M91.3,108.2h3.2M91.3,128.2h3.2M95.8,125.4V111.0M94.2,111.0h3.2M94.2,125.4h3.2M98.6,129.2V108.5M97.0,108.5h3.2M97.0,129.2h3.2M101.4,128.4V109.2M99.8,109.2h3.2M99.8,128.4h3.2M104.3,126.5V109.9M102.7,109.9h3.2M102.7,126.5h3.2M107.1,125.3V111.2M105.5,111.2h3.2M105.5,125.3h3.2M109.9,128.5V106.7M108.3,106.7h3.2M108.3,128.5h3.2M112.8,125.4V107.3M111.2,107.3h3.2M111.2,125.4h3.2M115.6,125.4V105.0M114.0,105.0h3.2M114.0,125.4h3.2M118.4,124.9V103.0M116.8,103.0h3.2M116.8,124.9h3.2M121.3,122.9V102.5M119.7,102.5h3.2M119.7,122.9h3.2M124.1,70.1V59.8M122.5,59.8h3.2M122.5,70.1h3.2M126.9,68.4V60.3M125.3,60.3h3.2M125.3,68.4h3.2M129.8,71.1V61.2M128.2,61.2h3.2M128.2,71.1h3.2M132.6,78.9V70.6M131.0,70.6h3.2M131.0,78.9h3.2M135.4,88.5V78.1M133.8,78.1h3.2M133.8,88.5h3.2M138.3,94.5V84.3M136.7,84.3h3.2M136.7,94.5h3.2M141.1,97.8V90.9M139.5,90.9h3.2M139.5,97.8h3.2M143.9,101.5V94.5M142.3,94.5h3.2M142.3,101.5h3.2M146.7,105.4V98.0M145.1,98.0h3.2M145.1,105.4h3.2M149.6,109.4V98.9M148.0,98.9h3.2M148.0,109.4h3.2M152.4,153.0V144.7M150.8,144.7h3.2M150.8,153.0h3.2M155.2,165.0V155.9M153.6,155.9h3.2M153.6,165.0h3.2M158.1,163.7V156.0M156.5,156.0h3.2M156.5,163.7h3.2M160.9,162.3V153.7M159.3,153.7h3.2M159.3,162.3h3.2M163.7,159.0V150.9M162.1,150.9h3.2M162.1,159.0h3.2M166.6,156.5V148.5M165.0,148.5h3.2M165.0,156.5h3.2M169.4,154.5V145.6M167.8,145.6h3.2M167.8,154.5h3.2M172.2,152.1V143.1M170.6,143.1h3.2M170.6,152.1h3.2M175.1,150.3V140.0M173.5,140.0h3.2M173.5,150.3h3.2M177.9,147.4V138.0M176.3,138.0h3.2M176.3,147.4h3.2M180.7,84.8V74.4M179.1,74.4h3.2M179.1,84.8h3.2M183.6,78.6V68.5M182.0,68.5h3.2M182.0,78.6h3.2M186.4,86.8V76.1M184.8,76.1h3.2M184.8,86.8h3.2M189.2,91.6V82.3M187.6,82.3h3.2M187.6,91.6h3.2M192.1,95.5V88.3M190.5,88.3h3.2M190.5,95.5h3.2M194.9,101.8V91.7M193.3,91.7h3.2M193.3,101.8h3.2M197.7,105.7V95.2M196.1,95.2h3.2M196.1,105.7h3.2M200.6,109.9V99.6M199.0,99.6h3.2M199.0,109.9h3.2M203.4,113.5V104.6M201.8,104.6h3.2M201.8,113.5h3.2M206.2,117.5V108.0M204.6,108.0h3.2M204.6,117.5h3.2M209.1,156.8V149.5M207.5,149.5h3.2M207.5,156.8h3.2M211.9,170.4V160.4M210.3,160.4h3.2M210.3,170.4h3.2M214.7,168.6V159.7M213.1,159.7h3.2M213.1,168.6h3.2M217.5,164.3V156.7M215.9,156.7h3.2M215.9,164.3h3.2M220.4,159.5V152.8M218.8,152.8h3.2M218.8,159.5h3.2M223.2,156.9V146.9M221.6,146.9h3.2M221.6,156.9h3.2M226.0,153.6V142.9M224.4,142.9h3.2M224.4,153.6h3.2M228.9,149.2V142.4M227.3,142.4h3.2M227.3,149.2h3.2M231.7,148.9V139.0M230.1,139.0h3.2M230.1,148.9h3.2M234.5,146.2V138.0M232.9,138.0h3.2M232.9,146.2h3.2M237.4,85.0V77.9M235.8,77.9h3.2M235.8,85.0h3.2M240.2,81.0V73.3M238.6,73.3h3.2M238.6,81.0h3.2M243.0,83.3V73.6M241.4,73.6h3.2M241.4,83.3h3.2M245.9,90.9V80.7M244.3,80.7h3.2M244.3,90.9h3.2M248.7,95.2V88.6M247.1,88.6h3.2M247.1,95.2h3.2M251.5,102.5V93.5M249.9,93.5h3.2M249.9,102.5h3.2M254.4,105.0V98.4M252.8,98.4h3.2M252.8,105.0h3.2M257.2,110.1V100.6M255.6,100.6h3.2M255.6,110.1h3.2M260.0,113.0V105.1M258.4,105.1h3.2M258.4,113.0h3.2M262.9,116.6V106.4M261.3,106.4h3.2M261.3,116.6h3.2M265.7,158.4V147.8M264.1,147.8h3.2M264.1,158.4h3.2M268.5,170.9V162.3M266.9,162.3h3.2M266.9,170.9h3.2M271.4,169.5V158.8M269.8,158.8h3.2M269.8,169.5h3.2M274.2,163.1V155.4M272.6,155.4h3.2M272.6,163.1h3.2M277.0,157.7V151.0M275.4,151.0h3.2M275.4,157.7h3.2M279.9,154.0V145.0M278.3,145.0h3.2M278.3,154.0h3.2M282.7,147.8V141.3M281.1,141.3h3.2M281.1,147.8h3.2M285.5,144.5V137.2M283.9,137.2h3.2M283.9,144.5h3.2M288.3,142.5V134.3M286.7,134.3h3.2M286.7,142.5h3.2M291.2,141.1V132.1M289.6,132.1h3.2M289.6,141.1h3.2" stroke="#858585" stroke-width="0.8" fill="none"/>
<polyline points="36.3,120.1 39.1,127.4 42.0,131.7 44.8,132.3 47.6,131.1 50.5,127.4 53.3,123.7 56.1,121.3 59.0,120.1 61.8,118.8 64.6,117.6 67.5,117.6 70.3,117.6 73.1,118.2 75.9,120.1 78.8,123.1 81.6,122.5 84.4,120.7 87.3,118.8 90.1,118.2 92.9,118.2 95.8,118.2 98.6,118.8 101.4,118.8 104.3,118.2 107.1,118.2 109.9,117.6 112.8,116.4 115.6,115.2 118.4,113.9 121.3,112.7 124.1,64.9 126.9,64.3 129.8,66.2 132.6,74.7 135.4,83.3 138.3,89.4 141.1,94.3 143.9,98.0 146.7,101.7 149.6,104.1 152.4,148.8 155.2,160.5 158.1,159.9 160.9,158.0 163.7,155.0 166.6,152.5 169.4,150.1 172.2,147.6 175.1,145.2 177.9,142.7 180.7,79.6 183.6,73.5 186.4,81.5 189.2,87.0 192.1,91.9 194.9,96.8 197.7,100.5 200.6,104.7 203.4,109.0 206.2,112.7 209.1,153.1 211.9,165.4 214.7,164.2 217.5,160.5 220.4,156.2 223.2,151.9 226.0,148.2 228.9,145.8 231.7,143.9 234.5,142.1 237.4,81.5 240.2,77.2 243.0,78.4 245.9,85.8 248.7,91.9 251.5,98.0 254.4,101.7 257.2,105.4 260.0,109.0 262.9,111.5 265.7,153.1 268.5,166.6 271.4,164.2 274.2,159.3 277.0,154.4 279.9,149.5 282.7,144.6 285.5,140.9 288.3,138.4 291.2,136.6" fill="none" stroke="#4a7bc3" stroke-width="2.4" stroke-linejoin="round"/>
<path d="M36.3,120.1h0M39.1,127.4h0M42.0,131.7h0M44.8,132.3h0M47.6,131.1h0M50.5,127.4h0M53.3,123.7h0M56.1,121.3h0M59.0,120.1h0M61.8,118.8h0M64.6,117.6h0M67.5,117.6h0M70.3,117.6h0M73.1,118.2h0M75.9,120.1h0M78.8,123.1h0M81.6,122.5h0M84.4,120.7h0M87.3,118.8h0M90.1,118.2h0M92.9,118.2h0M95.8,118.2h0M98.6,118.8h0M101.4,118.8h0M104.3,118.2h0M107.1,118.2h0M109.9,117.6h0M112.8,116.4h0M115.6,115.2h0M118.4,113.9h0M121.3,112.7h0M124.1,64.9h0M126.9,64.3h0M129.8,66.2h0M132.6,74.7h0M135.4,83.3h0M138.3,89.4h0M141.1,94.3h0M143.9,98.0h0M146.7,101.7h0M149.6,104.1h0M152.4,148.8h0M155.2,160.5h0M158.1,159.9h0M160.9,158.0h0M163.7,155.0h0M166.6,152.5h0M169.4,150.1h0M172.2,147.6h0M175.1,145.2h0M177.9,142.7h0M180.7,79.6h0M183.6,73.5h0M186.4,81.5h0M189.2,87.0h0M192.1,91.9h0M194.9,96.8h0M197.7,100.5h0M200.6,104.7h0M203.4,109.0h0M206.2,112.7h0M209.1,153.1h0M211.9,165.4h0M214.7,164.2h0M217.5,160.5h0M220.4,156.2h0M223.2,151.9h0M226.0,148.2h0M228.9,145.8h0M231.7,143.9h0M234.5,142.1h0M237.4,81.5h0M240.2,77.2h0M243.0,78.4h0M245.9,85.8h0M248.7,91.9h0M251.5,98.0h0M254.4,101.7h0M257.2,105.4h0M260.0,109.0h0M262.9,111.5h0M265.7,153.1h0M268.5,166.6h0M271.4,164.2h0M274.2,159.3h0M277.0,154.4h0M279.9,149.5h0M282.7,144.6h0M285.5,140.9h0M288.3,138.4h0M291.2,136.6h0" stroke="#4a7bc3" stroke-width="4.40" stroke-linecap="square" fill="none"/>
<path d="M36.3,117.3V104.5M34.7,104.5h3.2M34.7,117.3h3.2M39.1,124.1V112.3M37.5,112.3h3.2M37.5,124.1h3.2M42.0,131.9V118.0M40.4,118.0h3.2M40.4,131.9h3.2M44.8,131.0V118.9M43.2,118.9h3.2M43.2,131.0h3.2M47.6,129.5V118.0M46.0,118.0h3.2M46.0,129.5h3.2M50.5,126.4V112.5M48.9,112.5h3.2M48.9,126.4h3.2M53.3,125.9V108.1M51.7,108.1h3.2M51.7,125.9h3.2M56.1,123.6V106.7M54.5,106.7h3.2M54.5,123.6h3.2M59.0,122.3V105.6M57.4,105.6h3.2M57.4,122.3h3.2M61.8,119.0V106.4M60.2,106.4h3.2M60.2,119.0h3.2M64.6,117.7V102.8M63.0,102.8h3.2M63.0,117.7h3.2M67.5,114.3V101.3M65.9,101.3h3.2M65.9,114.3h3.2M70.3,114.6V102.3M68.7,102.3h3.2M68.7,114.6h3.2M73.1,114.9V103.1M71.5,103.1h3.2M71.5,114.9h3.2M75.9,112.9V100.3M74.3,100.3h3.2M74.3,112.9h3.2M78.8,113.1V95.2M77.2,95.2h3.2M77.2,113.1h3.2M81.6,110.9V93.7M80.0,93.7h3.2M80.0,110.9h3.2M84.4,109.6V92.6M82.8,92.6h3.2M82.8,109.6h3.2M87.3,111.4V94.5M85.7,94.5h3.2M85.7,111.4h3.2M90.1,111.6V99.1M88.5,99.1h3.2M88.5,111.6h3.2M92.9,112.6V99.3M91.3,99.3h3.2M91.3,112.6h3.2M95.8,114.4V98.8M94.2,98.8h3.2M94.2,114.4h3.2M98.6,113.6V97.2M97.0,97.2h3.2M97.0,113.6h3.2M101.4,111.6V94.3M99.8,94.3h3.2M99.8,111.6h3.2M104.3,109.8V92.3M102.7,92.3h3.2M102.7,109.8h3.2M107.1,111.2V99.5M105.5,99.5h3.2M105.5,111.2h3.2M109.9,118.0V102.5M108.3,102.5h3.2M108.3,118.0h3.2M112.8,118.2V102.3M111.2,102.3h3.2M111.2,118.2h3.2M115.6,115.2V100.4M114.0,100.4h3.2M114.0,115.2h3.2M118.4,113.4V101.0M116.8,101.0h3.2M116.8,113.4h3.2M121.3,113.8V99.3M119.7,99.3h3.2M119.7,113.8h3.2M124.1,62.2V55.4M122.5,55.4h3.2M122.5,62.2h3.2M126.9,67.7V57.3M125.3,57.3h3.2M125.3,67.7h3.2M129.8,62.7V52.5M128.2,52.5h3.2M128.2,62.7h3.2M132.6,73.0V64.2M131.0,64.2h3.2M131.0,73.0h3.2M135.4,80.4V72.7M133.8,72.7h3.2M133.8,80.4h3.2M138.3,84.8V74.5M136.7,74.5h3.2M136.7,84.8h3.2M141.1,85.9V77.0M139.5,77.0h3.2M139.5,85.9h3.2M143.9,90.3V80.0M142.3,80.0h3.2M142.3,90.3h3.2M146.7,96.3V86.2M145.1,86.2h3.2M145.1,96.3h3.2M149.6,100.5V91.9M148.0,91.9h3.2M148.0,100.5h3.2M152.4,143.1V134.9M150.8,134.9h3.2M150.8,143.1h3.2M155.2,160.7V151.7M153.6,151.7h3.2M153.6,160.7h3.2M158.1,160.3V152.1M156.5,152.1h3.2M156.5,160.3h3.2M160.9,157.9V150.8M159.3,150.8h3.2M159.3,157.9h3.2M163.7,155.8V148.0M162.1,148.0h3.2M162.1,155.8h3.2M166.6,153.8V143.9M165.0,143.9h3.2M165.0,153.8h3.2M169.4,149.1V142.5M167.8,142.5h3.2M167.8,149.1h3.2M172.2,146.0V139.4M170.6,139.4h3.2M170.6,146.0h3.2M175.1,144.2V135.1M173.5,135.1h3.2M173.5,144.2h3.2M177.9,141.6V134.0M176.3,134.0h3.2M176.3,141.6h3.2M180.7,76.0V67.3M179.1,67.3h3.2M179.1,76.0h3.2M183.6,67.9V59.5M182.0,59.5h3.2M182.0,67.9h3.2M186.4,75.6V67.7M184.8,67.7h3.2M184.8,75.6h3.2M189.2,80.7V70.0M187.6,70.0h3.2M187.6,80.7h3.2M192.1,83.3V76.0M190.5,76.0h3.2M190.5,83.3h3.2M194.9,88.0V79.8M193.3,79.8h3.2M193.3,88.0h3.2M197.7,91.3V84.0M196.1,84.0h3.2M196.1,91.3h3.2M200.6,95.8V86.7M199.0,86.7h3.2M199.0,95.8h3.2M203.4,99.4V91.8M201.8,91.8h3.2M201.8,99.4h3.2M206.2,105.7V97.7M204.6,97.7h3.2M204.6,105.7h3.2M209.1,150.6V141.0M207.5,141.0h3.2M207.5,150.6h3.2M211.9,166.8V159.0M210.3,159.0h3.2M210.3,166.8h3.2M214.7,169.8V161.0M213.1,161.0h3.2M213.1,169.8h3.2M217.5,165.0V154.7M215.9,154.7h3.2M215.9,165.0h3.2M220.4,157.8V150.9M218.8,150.9h3.2M218.8,157.8h3.2M223.2,154.0V147.3M221.6,147.3h3.2M221.6,154.0h3.2M226.0,150.7V143.3M224.4,143.3h3.2M224.4,150.7h3.2M228.9,150.0V140.3M227.3,140.3h3.2M227.3,150.0h3.2M231.7,147.9V138.8M230.1,138.8h3.2M230.1,147.9h3.2M234.5,144.6V137.2M232.9,137.2h3.2M232.9,144.6h3.2M237.4,78.7V70.8M235.8,70.8h3.2M235.8,78.7h3.2M240.2,73.4V66.2M238.6,66.2h3.2M238.6,73.4h3.2M243.0,74.0V65.6M241.4,65.6h3.2M241.4,74.0h3.2M245.9,81.1V74.5M244.3,74.5h3.2M244.3,81.1h3.2M248.7,87.4V78.0M247.1,78.0h3.2M247.1,87.4h3.2M251.5,90.9V80.6M249.9,80.6h3.2M249.9,90.9h3.2M254.4,93.5V83.0M252.8,83.0h3.2M252.8,93.5h3.2M257.2,96.7V87.1M255.6,87.1h3.2M255.6,96.7h3.2M260.0,100.8V90.3M258.4,90.3h3.2M258.4,100.8h3.2M262.9,103.1V96.6M261.3,96.6h3.2M261.3,103.1h3.2M265.7,153.3V145.6M264.1,145.6h3.2M264.1,153.3h3.2M268.5,171.3V160.7M266.9,160.7h3.2M266.9,171.3h3.2M271.4,167.8V158.1M269.8,158.1h3.2M269.8,167.8h3.2M274.2,162.1V153.9M272.6,153.9h3.2M272.6,162.1h3.2M277.0,158.4V147.9M275.4,147.9h3.2M275.4,158.4h3.2M279.9,153.4V144.3M278.3,144.3h3.2M278.3,153.4h3.2M282.7,149.5V139.6M281.1,139.6h3.2M281.1,149.5h3.2M285.5,143.5V135.8M283.9,135.8h3.2M283.9,143.5h3.2M288.3,140.8V133.6M286.7,133.6h3.2M286.7,140.8h3.2M291.2,140.1V131.8M289.6,131.8h3.2M289.6,140.1h3.2" stroke="#858585" stroke-width="0.8" fill="none"/>
<polyline points="36.3,110.9 39.1,118.2 42.0,125.0 44.8,125.0 47.6,123.7 50.5,119.4 53.3,117.0 56.1,115.2 59.0,113.9 61.8,112.7 64.6,110.3 67.5,107.8 70.3,108.4 73.1,109.0 75.9,106.6 78.8,104.1 81.6,102.3 84.4,101.1 87.3,102.9 90.1,105.4 92.9,106.0 95.8,106.6 98.6,105.4 101.4,102.9 104.3,101.1 107.1,105.4 109.9,110.3 112.8,110.3 115.6,107.8 118.4,107.2 121.3,106.6 124.1,58.8 126.9,62.5 129.8,57.6 132.6,68.6 135.4,76.6 138.3,79.6 141.1,81.5 143.9,85.2 146.7,91.3 149.6,96.2 152.4,139.0 155.2,156.2 158.1,156.2 160.9,154.4 163.7,151.9 166.6,148.8 169.4,145.8 172.2,142.7 175.1,139.7 177.9,137.8 180.7,71.7 183.6,63.7 186.4,71.7 189.2,75.4 192.1,79.6 194.9,83.9 197.7,87.6 200.6,91.3 203.4,95.6 206.2,101.7 209.1,145.8 211.9,162.9 214.7,165.4 217.5,159.9 220.4,154.4 223.2,150.7 226.0,147.0 228.9,145.2 231.7,143.3 234.5,140.9 237.4,74.7 240.2,69.8 243.0,69.8 245.9,77.8 248.7,82.7 251.5,85.8 254.4,88.2 257.2,91.9 260.0,95.6 262.9,99.9 265.7,149.5 268.5,166.0 271.4,162.9 274.2,158.0 277.0,153.1 279.9,148.8 282.7,144.6 285.5,139.7 288.3,137.2 291.2,136.0" fill="none" stroke="#132650" stroke-width="2.4" stroke-linejoin="round"/>
<path d="M36.3,110.9h0M39.1,118.2h0M42.0,125.0h0M44.8,125.0h0M47.6,123.7h0M50.5,119.4h0M53.3,117.0h0M56.1,115.2h0M59.0,113.9h0M61.8,112.7h0M64.6,110.3h0M67.5,107.8h0M70.3,108.4h0M73.1,109.0h0M75.9,106.6h0M78.8,104.1h0M81.6,102.3h0M84.4,101.1h0M87.3,102.9h0M90.1,105.4h0M92.9,106.0h0M95.8,106.6h0M98.6,105.4h0M101.4,102.9h0M104.3,101.1h0M107.1,105.4h0M109.9,110.3h0M112.8,110.3h0M115.6,107.8h0M118.4,107.2h0M121.3,106.6h0M124.1,58.8h0M126.9,62.5h0M129.8,57.6h0M132.6,68.6h0M135.4,76.6h0M138.3,79.6h0M141.1,81.5h0M143.9,85.2h0M146.7,91.3h0M149.6,96.2h0M152.4,139.0h0M155.2,156.2h0M158.1,156.2h0M160.9,154.4h0M163.7,151.9h0M166.6,148.8h0M169.4,145.8h0M172.2,142.7h0M175.1,139.7h0M177.9,137.8h0M180.7,71.7h0M183.6,63.7h0M186.4,71.7h0M189.2,75.4h0M192.1,79.6h0M194.9,83.9h0M197.7,87.6h0M200.6,91.3h0M203.4,95.6h0M206.2,101.7h0M209.1,145.8h0M211.9,162.9h0M214.7,165.4h0M217.5,159.9h0M220.4,154.4h0M223.2,150.7h0M226.0,147.0h0M228.9,145.2h0M231.7,143.3h0M234.5,140.9h0M237.4,74.7h0M240.2,69.8h0M243.0,69.8h0M245.9,77.8h0M248.7,82.7h0M251.5,85.8h0M254.4,88.2h0M257.2,91.9h0M260.0,95.6h0M262.9,99.9h0M265.7,149.5h0M268.5,166.0h0M271.4,162.9h0M274.2,158.0h0M277.0,153.1h0M279.9,148.8h0M282.7,144.6h0M285.5,139.7h0M288.3,137.2h0M291.2,136.0h0" stroke="#132650" stroke-width="5.40" stroke-linecap="round" fill="none"/>
<line x1="307.8" y1="92.30" x2="325.8" y2="92.30" stroke="#b4c7e7" stroke-width="2.3"/>
<path d="M316.8,89.3l3.0,3.0l-3.0,3.0l-3.0,-3.0z" fill="#b4c7e7"/>
<text x="326.6" y="95.10" font-family='"Liberation Sans", sans-serif' font-size="7.7" fill="#333" letter-spacing="0.15">Control</text>
<line x1="307.8" y1="105.70" x2="325.8" y2="105.70" stroke="#7fa2da" stroke-width="2.3"/>
<path d="M316.8,102.6l3.0,5.0h-5.9z" fill="#7fa2da"/>
<text x="326.6" y="108.50" font-family='"Liberation Sans", sans-serif' font-size="7.7" fill="#333" letter-spacing="0.15">1 µM</text>
<line x1="307.8" y1="119.10" x2="325.8" y2="119.10" stroke="#4a7bc3" stroke-width="2.3"/>
<path d="M316.8,119.1h0" stroke="#4a7bc3" stroke-width="5.28" stroke-linecap="square" fill="none"/>
<text x="326.6" y="121.90" font-family='"Liberation Sans", sans-serif' font-size="7.7" fill="#333" letter-spacing="0.15">3 µM</text>
<line x1="307.8" y1="132.50" x2="325.8" y2="132.50" stroke="#132650" stroke-width="2.3"/>
<path d="M316.8,132.5h0" stroke="#132650" stroke-width="6.48" stroke-linecap="round" fill="none"/>
<text x="326.6" y="135.30" font-family='"Liberation Sans", sans-serif' font-size="7.7" fill="#333" letter-spacing="0.15">10 µM</text>
<text x="371.0" y="11.9" font-family='"Liberation Sans", sans-serif' font-size="12.5" font-weight="bold" fill="#111">B</text>
<text x="543.6" y="9.2" font-family='"Liberation Sans", sans-serif' font-size="9.6" fill="#111" text-anchor="middle" letter-spacing="0.3">8a</text>
<rect x="486.93" y="21.30" width="28.64" height="154.90" fill="#cccccc"/>
<rect x="544.22" y="21.30" width="28.64" height="154.90" fill="#cccccc"/>
<rect x="601.51" y="21.30" width="28.64" height="154.90" fill="#cccccc"/>
<line x1="401.00" y1="176.20" x2="658.80" y2="176.20" stroke="#d9d9d9" stroke-width="0.9"/>
<line x1="401.00" y1="145.22" x2="658.80" y2="145.22" stroke="#d9d9d9" stroke-width="0.9"/>
<line x1="401.00" y1="114.24" x2="658.80" y2="114.24" stroke="#d9d9d9" stroke-width="0.9"/>
<line x1="401.00" y1="83.26" x2="658.80" y2="83.26" stroke="#d9d9d9" stroke-width="0.9"/>
<line x1="401.00" y1="52.28" x2="658.80" y2="52.28" stroke="#d9d9d9" stroke-width="0.9"/>
<line x1="401.00" y1="21.30" x2="658.80" y2="21.30" stroke="#d9d9d9" stroke-width="0.9"/>
<line x1="401.00" y1="176.20" x2="401.00" y2="21.30" stroke="#d9d9d9" stroke-width="0.9"/>
<line x1="429.64" y1="176.20" x2="429.64" y2="21.30" stroke="#d9d9d9" stroke-width="0.9"/>
<line x1="458.29" y1="176.20" x2="458.29" y2="21.30" stroke="#d9d9d9" stroke-width="0.9"/>
<line x1="486.93" y1="176.20" x2="486.93" y2="21.30" stroke="#d9d9d9" stroke-width="0.9"/>
<line x1="515.58" y1="176.20" x2="515.58" y2="21.30" stroke="#d9d9d9" stroke-width="0.9"/>
<line x1="544.22" y1="176.20" x2="544.22" y2="21.30" stroke="#d9d9d9" stroke-width="0.9"/>
<line x1="572.86" y1="176.20" x2="572.86" y2="21.30" stroke="#d9d9d9" stroke-width="0.9"/>
<line x1="601.51" y1="176.20" x2="601.51" y2="21.30" stroke="#d9d9d9" stroke-width="0.9"/>
<line x1="630.15" y1="176.20" x2="630.15" y2="21.30" stroke="#d9d9d9" stroke-width="0.9"/>
<line x1="658.80" y1="176.20" x2="658.80" y2="21.30" stroke="#d9d9d9" stroke-width="0.9"/>
<text x="394.30" y="178.40" font-family='"Liberation Serif", serif' font-size="8.6" fill="#3a3a3a" stroke="#3a3a3a" stroke-width="0.22" text-anchor="end" textLength="3.75" lengthAdjust="spacingAndGlyphs">0</text>
<text x="394.30" y="147.42" font-family='"Liberation Serif", serif' font-size="8.6" fill="#3a3a3a" stroke="#3a3a3a" stroke-width="0.22" text-anchor="end" textLength="7.50" lengthAdjust="spacingAndGlyphs">50</text>
<text x="394.30" y="116.44" font-family='"Liberation Serif", serif' font-size="8.6" fill="#3a3a3a" stroke="#3a3a3a" stroke-width="0.22" text-anchor="end" textLength="11.25" lengthAdjust="spacingAndGlyphs">100</text>
<text x="394.30" y="85.46" font-family='"Liberation Serif", serif' font-size="8.6" fill="#3a3a3a" stroke="#3a3a3a" stroke-width="0.22" text-anchor="end" textLength="11.25" lengthAdjust="spacingAndGlyphs">150</text>
<text x="394.30" y="54.48" font-family='"Liberation Serif", serif' font-size="8.6" fill="#3a3a3a" stroke="#3a3a3a" stroke-width="0.22" text-anchor="end" textLength="11.25" lengthAdjust="spacingAndGlyphs">200</text>
<text x="394.30" y="23.50" font-family='"Liberation Serif", serif' font-size="8.6" fill="#3a3a3a" stroke="#3a3a3a" stroke-width="0.22" text-anchor="end" textLength="11.25" lengthAdjust="spacingAndGlyphs">250</text>
<text x="401.20" y="187.80" font-family='"Liberation Serif", serif' font-size="8.6" fill="#3a3a3a" stroke="#3a3a3a" stroke-width="0.22" text-anchor="middle" textLength="3.75" lengthAdjust="spacingAndGlyphs">0</text>
<text x="429.84" y="187.80" font-family='"Liberation Serif", serif' font-size="8.6" fill="#3a3a3a" stroke="#3a3a3a" stroke-width="0.22" text-anchor="middle" textLength="7.50" lengthAdjust="spacingAndGlyphs">10</text>
<text x="458.49" y="187.80" font-family='"Liberation Serif", serif' font-size="8.6" fill="#3a3a3a" stroke="#3a3a3a" stroke-width="0.22" text-anchor="middle" textLength="7.50" lengthAdjust="spacingAndGlyphs">20</text>
<text x="487.13" y="187.80" font-family='"Liberation Serif", serif' font-size="8.6" fill="#3a3a3a" stroke="#3a3a3a" stroke-width="0.22" text-anchor="middle" textLength="7.50" lengthAdjust="spacingAndGlyphs">30</text>
<text x="515.78" y="187.80" font-family='"Liberation Serif", serif' font-size="8.6" fill="#3a3a3a" stroke="#3a3a3a" stroke-width="0.22" text-anchor="middle" textLength="7.50" lengthAdjust="spacingAndGlyphs">40</text>
<text x="544.42" y="187.80" font-family='"Liberation Serif", serif' font-size="8.6" fill="#3a3a3a" stroke="#3a3a3a" stroke-width="0.22" text-anchor="middle" textLength="7.50" lengthAdjust="spacingAndGlyphs">50</text>
<text x="573.06" y="187.80" font-family='"Liberation Serif", serif' font-size="8.6" fill="#3a3a3a" stroke="#3a3a3a" stroke-width="0.22" text-anchor="middle" textLength="7.50" lengthAdjust="spacingAndGlyphs">60</text>
<text x="601.71" y="187.80" font-family='"Liberation Serif", serif' font-size="8.6" fill="#3a3a3a" stroke="#3a3a3a" stroke-width="0.22" text-anchor="middle" textLength="7.50" lengthAdjust="spacingAndGlyphs">70</text>
<text x="630.35" y="187.80" font-family='"Liberation Serif", serif' font-size="8.6" fill="#3a3a3a" stroke="#3a3a3a" stroke-width="0.22" text-anchor="middle" textLength="7.50" lengthAdjust="spacingAndGlyphs">80</text>
<text x="659.00" y="187.80" font-family='"Liberation Serif", serif' font-size="8.6" fill="#3a3a3a" stroke="#3a3a3a" stroke-width="0.22" text-anchor="middle" textLength="7.50" lengthAdjust="spacingAndGlyphs">90</text>
<text x="529.90" y="199.2" font-family='"Liberation Sans", sans-serif' font-size="8.6" font-weight="bold" fill="#1a1a1a" text-anchor="middle">Time (min)</text>
<text transform="translate(378.4,99.4) rotate(-90)" font-family='"Liberation Sans", sans-serif' font-size="8.7" font-weight="bold" fill="#1a1a1a" text-anchor="middle" textLength="106" lengthAdjust="spacingAndGlyphs">Distance moved (mm/min)</text>
<path d="M401.0,93.7V76.6M399.4,76.6h3.2M399.4,93.7h3.2M403.9,89.2V71.1M402.3,71.1h3.2M402.3,89.2h3.2M406.7,82.0V63.5M405.1,63.5h3.2M405.1,82.0h3.2M409.6,75.1V55.5M408.0,55.5h3.2M408.0,75.1h3.2M412.5,71.2V53.2M410.9,53.2h3.2M410.9,71.2h3.2M415.3,70.1V50.6M413.7,50.6h3.2M413.7,70.1h3.2M418.2,65.9V53.6M416.6,53.6h3.2M416.6,65.9h3.2M421.1,67.6V51.8M419.5,51.8h3.2M419.5,67.6h3.2M423.9,72.0V52.4M422.3,52.4h3.2M422.3,72.0h3.2M426.8,71.5V54.2M425.2,54.2h3.2M425.2,71.5h3.2M429.6,73.1V53.8M428.0,53.8h3.2M428.0,73.1h3.2M432.5,72.4V59.4M430.9,59.4h3.2M430.9,72.4h3.2M435.4,75.1V59.2M433.8,59.2h3.2M433.8,75.1h3.2M438.2,76.0V62.0M436.6,62.0h3.2M436.6,76.0h3.2M441.1,80.3V63.9M439.5,63.9h3.2M439.5,80.3h3.2M444.0,84.2V67.5M442.4,67.5h3.2M442.4,84.2h3.2M446.8,83.2V71.0M445.2,71.0h3.2M445.2,83.2h3.2M449.7,79.0V65.2M448.1,65.2h3.2M448.1,79.0h3.2M452.6,82.4V68.0M451.0,68.0h3.2M451.0,82.4h3.2M455.4,88.0V68.6M453.8,68.6h3.2M453.8,88.0h3.2M458.3,89.3V71.0M456.7,71.0h3.2M456.7,89.3h3.2M461.2,88.7V75.3M459.6,75.3h3.2M459.6,88.7h3.2M464.0,93.1V74.6M462.4,74.6h3.2M462.4,93.1h3.2M466.9,93.0V79.8M465.3,79.8h3.2M465.3,93.0h3.2M469.7,97.4V80.3M468.1,80.3h3.2M468.1,97.4h3.2M472.6,99.1V86.0M471.0,86.0h3.2M471.0,99.1h3.2M475.5,102.9V90.8M473.9,90.8h3.2M473.9,102.9h3.2M478.3,111.4V92.3M476.7,92.3h3.2M476.7,111.4h3.2M481.2,110.0V96.2M479.6,96.2h3.2M479.6,110.0h3.2M484.1,108.8V94.9M482.5,94.9h3.2M482.5,108.8h3.2M486.9,107.5V87.5M485.3,87.5h3.2M485.3,107.5h3.2M489.8,78.7V65.5M488.2,65.5h3.2M488.2,78.7h3.2M492.7,74.6V64.6M491.1,64.6h3.2M491.1,74.6h3.2M495.5,77.7V64.0M493.9,64.0h3.2M493.9,77.7h3.2M498.4,79.7V68.3M496.8,68.3h3.2M496.8,79.7h3.2M501.3,83.1V71.0M499.7,71.0h3.2M499.7,83.1h3.2M504.1,84.3V74.8M502.5,74.8h3.2M502.5,84.3h3.2M507.0,90.1V76.5M505.4,76.5h3.2M505.4,90.1h3.2M509.8,93.7V81.5M508.2,81.5h3.2M508.2,93.7h3.2M512.7,99.4V85.7M511.1,85.7h3.2M511.1,99.4h3.2M515.6,104.2V90.8M514.0,90.8h3.2M514.0,104.2h3.2M518.4,162.6V152.6M516.8,152.6h3.2M516.8,162.6h3.2M521.3,164.0V153.7M519.7,153.7h3.2M519.7,164.0h3.2M524.2,161.6V152.3M522.6,152.3h3.2M522.6,161.6h3.2M527.0,159.7V150.5M525.4,150.5h3.2M525.4,159.7h3.2M529.9,157.6V148.9M528.3,148.9h3.2M528.3,157.6h3.2M532.8,156.4V146.4M531.2,146.4h3.2M531.2,156.4h3.2M535.6,155.4V143.7M534.0,143.7h3.2M534.0,155.4h3.2M538.5,151.3V142.9M536.9,142.9h3.2M536.9,151.3h3.2M541.4,150.7V138.5M539.8,138.5h3.2M539.8,150.7h3.2M544.2,147.2V137.0M542.6,137.0h3.2M542.6,147.2h3.2M547.1,94.5V84.4M545.5,84.4h3.2M545.5,94.5h3.2M549.9,89.1V76.2M548.3,76.2h3.2M548.3,89.1h3.2M552.8,90.0V79.0M551.2,79.0h3.2M551.2,90.0h3.2M555.7,93.3V83.2M554.1,83.2h3.2M554.1,93.3h3.2M558.5,96.2V85.2M556.9,85.2h3.2M556.9,96.2h3.2M561.4,100.6V88.3M559.8,88.3h3.2M559.8,100.6h3.2M564.3,102.5V93.8M562.7,93.8h3.2M562.7,102.5h3.2M567.1,110.0V96.2M565.5,96.2h3.2M565.5,110.0h3.2M570.0,111.1V102.6M568.4,102.6h3.2M568.4,111.1h3.2M572.9,116.2V103.6M571.3,103.6h3.2M571.3,116.2h3.2M575.7,167.2V154.2M574.1,154.2h3.2M574.1,167.2h3.2M578.6,169.3V160.8M577.0,160.8h3.2M577.0,169.3h3.2M581.5,166.5V153.7M579.9,153.7h3.2M579.9,166.5h3.2M584.3,161.6V151.2M582.7,151.2h3.2M582.7,161.6h3.2M587.2,159.1V147.5M585.6,147.5h3.2M585.6,159.1h3.2M590.1,155.0V146.6M588.5,146.6h3.2M588.5,155.0h3.2M592.9,151.4V142.8M591.3,142.8h3.2M591.3,151.4h3.2M595.8,148.7V139.3M594.2,139.3h3.2M594.2,148.7h3.2M598.6,147.7V134.0M597.0,134.0h3.2M597.0,147.7h3.2M601.5,141.9V132.4M599.9,132.4h3.2M599.9,141.9h3.2M604.4,97.0V84.4M602.8,84.4h3.2M602.8,97.0h3.2M607.2,95.6V82.1M605.6,82.1h3.2M605.6,95.6h3.2M610.1,96.3V82.6M608.5,82.6h3.2M608.5,96.3h3.2M613.0,98.3V88.0M611.4,88.0h3.2M611.4,98.3h3.2M615.8,102.1V91.7M614.2,91.7h3.2M614.2,102.1h3.2M618.7,106.3V95.0M617.1,95.0h3.2M617.1,106.3h3.2M621.6,111.3V98.6M620.0,98.6h3.2M620.0,111.3h3.2M624.4,113.8V104.8M622.8,104.8h3.2M622.8,113.8h3.2M627.3,120.5V108.0M625.7,108.0h3.2M625.7,120.5h3.2M630.2,126.8V114.0M628.6,114.0h3.2M628.6,126.8h3.2M633.0,169.1V156.0M631.4,156.0h3.2M631.4,169.1h3.2M635.9,165.6V157.0M634.3,157.0h3.2M634.3,165.6h3.2M638.7,164.4V150.8M637.1,150.8h3.2M637.1,164.4h3.2M641.6,158.3V149.5M640.0,149.5h3.2M640.0,158.3h3.2M644.5,155.3V145.0M642.9,145.0h3.2M642.9,155.3h3.2M647.3,152.3V140.6M645.7,140.6h3.2M645.7,152.3h3.2M650.2,148.2V134.8M648.6,134.8h3.2M648.6,148.2h3.2M653.1,142.9V132.7M651.5,132.7h3.2M651.5,142.9h3.2M655.9,140.8V127.3M654.3,127.3h3.2M654.3,140.8h3.2M658.8,136.7V125.3M657.2,125.3h3.2M657.2,136.7h3.2" stroke="#858585" stroke-width="0.8" fill="none"/>
<polyline points="401.0,85.1 403.9,80.2 406.7,72.7 409.6,65.3 412.5,62.2 415.3,60.3 418.2,59.7 421.1,59.7 423.9,62.2 426.8,62.8 429.6,63.4 432.5,65.9 435.4,67.2 438.2,69.0 441.1,72.1 444.0,75.8 446.8,77.1 449.7,72.1 452.6,75.2 455.4,78.3 458.3,80.2 461.2,82.0 464.0,83.9 466.9,86.4 469.7,88.8 472.6,92.6 475.5,96.9 478.3,101.8 481.2,103.1 484.1,101.8 486.9,97.5 489.8,72.1 492.7,69.6 495.5,70.9 498.4,74.0 501.3,77.1 504.1,79.5 507.0,83.3 509.8,87.6 512.7,92.6 515.6,97.5 518.4,157.6 521.3,158.9 524.2,157.0 527.0,155.1 529.9,153.3 532.8,151.4 535.6,149.6 538.5,147.1 541.4,144.6 544.2,142.1 547.1,89.5 549.9,82.6 552.8,84.5 555.7,88.2 558.5,90.7 561.4,94.4 564.3,98.1 567.1,103.1 570.0,106.8 572.9,109.9 575.7,160.7 578.6,165.0 581.5,160.1 584.3,156.4 587.2,153.3 590.1,150.8 592.9,147.1 595.8,144.0 598.6,140.9 601.5,137.2 604.4,90.7 607.2,88.8 610.1,89.5 613.0,93.2 615.8,96.9 618.7,100.6 621.6,104.9 624.4,109.3 627.3,114.2 630.2,120.4 633.0,162.6 635.9,161.3 638.7,157.6 641.6,153.9 644.5,150.2 647.3,146.5 650.2,141.5 653.1,137.8 655.9,134.1 658.8,131.0" fill="none" stroke="#b4c7e7" stroke-width="2.4" stroke-linejoin="round"/>
<path d="M401.0,82.6l2.5,2.5l-2.5,2.5l-2.5,-2.5zM403.9,77.7l2.5,2.5l-2.5,2.5l-2.5,-2.5zM406.7,70.2l2.5,2.5l-2.5,2.5l-2.5,-2.5zM409.6,62.8l2.5,2.5l-2.5,2.5l-2.5,-2.5zM412.5,59.7l2.5,2.5l-2.5,2.5l-2.5,-2.5zM415.3,57.8l2.5,2.5l-2.5,2.5l-2.5,-2.5zM418.2,57.2l2.5,2.5l-2.5,2.5l-2.5,-2.5zM421.1,57.2l2.5,2.5l-2.5,2.5l-2.5,-2.5zM423.9,59.7l2.5,2.5l-2.5,2.5l-2.5,-2.5zM426.8,60.3l2.5,2.5l-2.5,2.5l-2.5,-2.5zM429.6,60.9l2.5,2.5l-2.5,2.5l-2.5,-2.5zM432.5,63.4l2.5,2.5l-2.5,2.5l-2.5,-2.5zM435.4,64.7l2.5,2.5l-2.5,2.5l-2.5,-2.5zM438.2,66.5l2.5,2.5l-2.5,2.5l-2.5,-2.5zM441.1,69.6l2.5,2.5l-2.5,2.5l-2.5,-2.5zM444.0,73.3l2.5,2.5l-2.5,2.5l-2.5,-2.5zM446.8,74.6l2.5,2.5l-2.5,2.5l-2.5,-2.5zM449.7,69.6l2.5,2.5l-2.5,2.5l-2.5,-2.5zM452.6,72.7l2.5,2.5l-2.5,2.5l-2.5,-2.5zM455.4,75.8l2.5,2.5l-2.5,2.5l-2.5,-2.5zM458.3,77.7l2.5,2.5l-2.5,2.5l-2.5,-2.5zM461.2,79.5l2.5,2.5l-2.5,2.5l-2.5,-2.5zM464.0,81.4l2.5,2.5l-2.5,2.5l-2.5,-2.5zM466.9,83.9l2.5,2.5l-2.5,2.5l-2.5,-2.5zM469.7,86.3l2.5,2.5l-2.5,2.5l-2.5,-2.5zM472.6,90.1l2.5,2.5l-2.5,2.5l-2.5,-2.5zM475.5,94.4l2.5,2.5l-2.5,2.5l-2.5,-2.5zM478.3,99.3l2.5,2.5l-2.5,2.5l-2.5,-2.5zM481.2,100.6l2.5,2.5l-2.5,2.5l-2.5,-2.5zM484.1,99.3l2.5,2.5l-2.5,2.5l-2.5,-2.5zM486.9,95.0l2.5,2.5l-2.5,2.5l-2.5,-2.5zM489.8,69.6l2.5,2.5l-2.5,2.5l-2.5,-2.5zM492.7,67.1l2.5,2.5l-2.5,2.5l-2.5,-2.5zM495.5,68.4l2.5,2.5l-2.5,2.5l-2.5,-2.5zM498.4,71.5l2.5,2.5l-2.5,2.5l-2.5,-2.5zM501.3,74.6l2.5,2.5l-2.5,2.5l-2.5,-2.5zM504.1,77.0l2.5,2.5l-2.5,2.5l-2.5,-2.5zM507.0,80.8l2.5,2.5l-2.5,2.5l-2.5,-2.5zM509.8,85.1l2.5,2.5l-2.5,2.5l-2.5,-2.5zM512.7,90.1l2.5,2.5l-2.5,2.5l-2.5,-2.5zM515.6,95.0l2.5,2.5l-2.5,2.5l-2.5,-2.5zM518.4,155.1l2.5,2.5l-2.5,2.5l-2.5,-2.5zM521.3,156.4l2.5,2.5l-2.5,2.5l-2.5,-2.5zM524.2,154.5l2.5,2.5l-2.5,2.5l-2.5,-2.5zM527.0,152.6l2.5,2.5l-2.5,2.5l-2.5,-2.5zM529.9,150.8l2.5,2.5l-2.5,2.5l-2.5,-2.5zM532.8,148.9l2.5,2.5l-2.5,2.5l-2.5,-2.5zM535.6,147.1l2.5,2.5l-2.5,2.5l-2.5,-2.5zM538.5,144.6l2.5,2.5l-2.5,2.5l-2.5,-2.5zM541.4,142.1l2.5,2.5l-2.5,2.5l-2.5,-2.5zM544.2,139.6l2.5,2.5l-2.5,2.5l-2.5,-2.5zM547.1,87.0l2.5,2.5l-2.5,2.5l-2.5,-2.5zM549.9,80.1l2.5,2.5l-2.5,2.5l-2.5,-2.5zM552.8,82.0l2.5,2.5l-2.5,2.5l-2.5,-2.5zM555.7,85.7l2.5,2.5l-2.5,2.5l-2.5,-2.5zM558.5,88.2l2.5,2.5l-2.5,2.5l-2.5,-2.5zM561.4,91.9l2.5,2.5l-2.5,2.5l-2.5,-2.5zM564.3,95.6l2.5,2.5l-2.5,2.5l-2.5,-2.5zM567.1,100.6l2.5,2.5l-2.5,2.5l-2.5,-2.5zM570.0,104.3l2.5,2.5l-2.5,2.5l-2.5,-2.5zM572.9,107.4l2.5,2.5l-2.5,2.5l-2.5,-2.5zM575.7,158.2l2.5,2.5l-2.5,2.5l-2.5,-2.5zM578.6,162.5l2.5,2.5l-2.5,2.5l-2.5,-2.5zM581.5,157.6l2.5,2.5l-2.5,2.5l-2.5,-2.5zM584.3,153.9l2.5,2.5l-2.5,2.5l-2.5,-2.5zM587.2,150.8l2.5,2.5l-2.5,2.5l-2.5,-2.5zM590.1,148.3l2.5,2.5l-2.5,2.5l-2.5,-2.5zM592.9,144.6l2.5,2.5l-2.5,2.5l-2.5,-2.5zM595.8,141.5l2.5,2.5l-2.5,2.5l-2.5,-2.5zM598.6,138.4l2.5,2.5l-2.5,2.5l-2.5,-2.5zM601.5,134.7l2.5,2.5l-2.5,2.5l-2.5,-2.5zM604.4,88.2l2.5,2.5l-2.5,2.5l-2.5,-2.5zM607.2,86.3l2.5,2.5l-2.5,2.5l-2.5,-2.5zM610.1,87.0l2.5,2.5l-2.5,2.5l-2.5,-2.5zM613.0,90.7l2.5,2.5l-2.5,2.5l-2.5,-2.5zM615.8,94.4l2.5,2.5l-2.5,2.5l-2.5,-2.5zM618.7,98.1l2.5,2.5l-2.5,2.5l-2.5,-2.5zM621.6,102.4l2.5,2.5l-2.5,2.5l-2.5,-2.5zM624.4,106.8l2.5,2.5l-2.5,2.5l-2.5,-2.5zM627.3,111.7l2.5,2.5l-2.5,2.5l-2.5,-2.5zM630.2,117.9l2.5,2.5l-2.5,2.5l-2.5,-2.5zM633.0,160.1l2.5,2.5l-2.5,2.5l-2.5,-2.5zM635.9,158.8l2.5,2.5l-2.5,2.5l-2.5,-2.5zM638.7,155.1l2.5,2.5l-2.5,2.5l-2.5,-2.5zM641.6,151.4l2.5,2.5l-2.5,2.5l-2.5,-2.5zM644.5,147.7l2.5,2.5l-2.5,2.5l-2.5,-2.5zM647.3,144.0l2.5,2.5l-2.5,2.5l-2.5,-2.5zM650.2,139.0l2.5,2.5l-2.5,2.5l-2.5,-2.5zM653.1,135.3l2.5,2.5l-2.5,2.5l-2.5,-2.5zM655.9,131.6l2.5,2.5l-2.5,2.5l-2.5,-2.5zM658.8,128.5l2.5,2.5l-2.5,2.5l-2.5,-2.5z" fill="#b4c7e7"/>
<path d="M401.0,123.7V101.0M399.4,101.0h3.2M399.4,123.7h3.2M403.9,120.8V97.8M402.3,97.8h3.2M402.3,120.8h3.2M406.7,117.3V97.6M405.1,97.6h3.2M405.1,117.3h3.2M409.6,111.8V94.4M408.0,94.4h3.2M408.0,111.8h3.2M412.5,107.4V92.6M410.9,92.6h3.2M410.9,107.4h3.2M415.3,108.9V87.4M413.7,87.4h3.2M413.7,108.9h3.2M418.2,106.7V87.1M416.6,87.1h3.2M416.6,106.7h3.2M421.1,111.8V89.4M419.5,89.4h3.2M419.5,111.8h3.2M423.9,108.7V90.1M422.3,90.1h3.2M422.3,108.7h3.2M426.8,109.4V86.9M425.2,86.9h3.2M425.2,109.4h3.2M429.6,111.9V94.3M428.0,94.3h3.2M428.0,111.9h3.2M432.5,116.4V93.5M430.9,93.5h3.2M430.9,116.4h3.2M435.4,117.2V95.1M433.8,95.1h3.2M433.8,117.2h3.2M438.2,120.0V101.0M436.6,101.0h3.2M436.6,120.0h3.2M441.1,123.1V102.9M439.5,102.9h3.2M439.5,123.1h3.2M444.0,126.3V104.7M442.4,104.7h3.2M442.4,126.3h3.2M446.8,125.7V108.9M445.2,108.9h3.2M445.2,125.7h3.2M449.7,131.9V111.5M448.1,111.5h3.2M448.1,131.9h3.2M452.6,138.1V115.2M451.0,115.2h3.2M451.0,138.1h3.2M455.4,139.1V121.6M453.8,121.6h3.2M453.8,139.1h3.2M458.3,144.9V122.0M456.7,122.0h3.2M456.7,144.9h3.2M461.2,145.5V123.9M459.6,123.9h3.2M459.6,145.5h3.2M464.0,148.2V124.9M462.4,124.9h3.2M462.4,148.2h3.2M466.9,146.9V128.7M465.3,128.7h3.2M465.3,146.9h3.2M469.7,146.9V131.1M468.1,131.1h3.2M468.1,146.9h3.2M472.6,151.7V128.9M471.0,128.9h3.2M471.0,151.7h3.2M475.5,152.3V129.5M473.9,129.5h3.2M473.9,152.3h3.2M478.3,151.1V131.9M476.7,131.9h3.2M476.7,151.1h3.2M481.2,149.4V133.6M479.6,133.6h3.2M479.6,149.4h3.2M484.1,149.3V132.5M482.5,132.5h3.2M482.5,149.3h3.2M486.9,148.4V127.2M485.3,127.2h3.2M485.3,148.4h3.2M489.8,73.5V65.7M488.2,65.7h3.2M488.2,73.5h3.2M492.7,73.1V62.5M491.1,62.5h3.2M491.1,73.1h3.2M495.5,75.4V66.3M493.9,66.3h3.2M493.9,75.4h3.2M498.4,80.8V73.4M496.8,73.4h3.2M496.8,80.8h3.2M501.3,89.2V79.8M499.7,79.8h3.2M499.7,89.2h3.2M504.1,94.7V86.7M502.5,86.7h3.2M502.5,94.7h3.2M507.0,102.2V91.6M505.4,91.6h3.2M505.4,102.2h3.2M509.8,107.1V96.6M508.2,96.6h3.2M508.2,107.1h3.2M512.7,111.2V102.4M511.1,102.4h3.2M511.1,111.2h3.2M515.6,116.4V107.1M514.0,107.1h3.2M514.0,116.4h3.2M518.4,165.5V155.9M516.8,155.9h3.2M516.8,165.5h3.2M521.3,172.5V162.5M519.7,162.5h3.2M519.7,172.5h3.2M524.2,171.7V160.9M522.6,160.9h3.2M522.6,171.7h3.2M527.0,168.4V161.7M525.4,161.7h3.2M525.4,168.4h3.2M529.9,167.8V159.8M528.3,159.8h3.2M528.3,167.8h3.2M532.8,167.1V158.0M531.2,158.0h3.2M531.2,167.1h3.2M535.6,165.2V157.4M534.0,157.4h3.2M534.0,165.2h3.2M538.5,164.6V155.6M536.9,155.6h3.2M536.9,164.6h3.2M541.4,162.3V155.4M539.8,155.4h3.2M539.8,162.3h3.2M544.2,162.8V152.5M542.6,152.5h3.2M542.6,162.8h3.2M547.1,93.8V85.1M545.5,85.1h3.2M545.5,93.8h3.2M549.9,89.9V82.9M548.3,82.9h3.2M548.3,89.9h3.2M552.8,95.4V86.0M551.2,86.0h3.2M551.2,95.4h3.2M555.7,99.6V91.7M554.1,91.7h3.2M554.1,99.6h3.2M558.5,104.3V96.9M556.9,96.9h3.2M556.9,104.3h3.2M561.4,109.9V101.3M559.8,101.3h3.2M559.8,109.9h3.2M564.3,114.1V107.0M562.7,107.0h3.2M562.7,114.1h3.2M567.1,119.2V111.8M565.5,111.8h3.2M565.5,119.2h3.2M570.0,126.8V116.5M568.4,116.5h3.2M568.4,126.8h3.2M572.9,134.5V125.0M571.3,125.0h3.2M571.3,134.5h3.2M575.7,165.8V159.3M574.1,159.3h3.2M574.1,165.8h3.2M578.6,173.7V163.8M577.0,163.8h3.2M577.0,173.7h3.2M581.5,170.8V164.2M579.9,164.2h3.2M579.9,170.8h3.2M584.3,169.6V161.7M582.7,161.7h3.2M582.7,169.6h3.2M587.2,169.0V158.6M585.6,158.6h3.2M585.6,169.0h3.2M590.1,166.5V157.4M588.5,157.4h3.2M588.5,166.5h3.2M592.9,164.6V156.8M591.3,156.8h3.2M591.3,164.6h3.2M595.8,163.5V155.4M594.2,155.4h3.2M594.2,163.5h3.2M598.6,162.9V154.8M597.0,154.8h3.2M597.0,162.9h3.2M601.5,161.1V154.1M599.9,154.1h3.2M599.9,161.1h3.2M604.4,98.0V87.1M602.8,87.1h3.2M602.8,98.0h3.2M607.2,94.1V87.3M605.6,87.3h3.2M605.6,94.1h3.2M610.1,97.3V89.0M608.5,89.0h3.2M608.5,97.3h3.2M613.0,103.0V93.3M611.4,93.3h3.2M611.4,103.0h3.2M615.8,107.8V99.6M614.2,99.6h3.2M614.2,107.8h3.2M618.7,115.9V105.1M617.1,105.1h3.2M617.1,115.9h3.2M621.6,120.5V112.9M620.0,112.9h3.2M620.0,120.5h3.2M624.4,128.3V117.5M622.8,117.5h3.2M622.8,128.3h3.2M627.3,134.3V123.9M625.7,123.9h3.2M625.7,134.3h3.2M630.2,140.0V130.6M628.6,130.6h3.2M628.6,140.0h3.2M633.0,169.0V158.6M631.4,158.6h3.2M631.4,169.0h3.2M635.9,173.0V164.5M634.3,164.5h3.2M634.3,173.0h3.2M638.7,173.2V163.1M637.1,163.1h3.2M637.1,173.2h3.2M641.6,172.5V162.5M640.0,162.5h3.2M640.0,172.5h3.2M644.5,170.0V161.3M642.9,161.3h3.2M642.9,170.0h3.2M647.3,168.7V160.2M645.7,160.2h3.2M645.7,168.7h3.2M650.2,168.0V158.4M648.6,158.4h3.2M648.6,168.0h3.2M653.1,166.1V157.8M651.5,157.8h3.2M651.5,166.1h3.2M655.9,164.1V157.3M654.3,157.3h3.2M654.3,164.1h3.2M658.8,165.0V155.2M657.2,155.2h3.2M657.2,165.0h3.2" stroke="#858585" stroke-width="0.8" fill="none"/>
<polyline points="401.0,112.4 403.9,109.3 406.7,107.4 409.6,103.1 412.5,100.0 415.3,98.1 418.2,96.9 421.1,100.6 423.9,99.4 426.8,98.1 429.6,103.1 432.5,104.9 435.4,106.2 438.2,110.5 441.1,113.0 444.0,115.5 446.8,117.3 449.7,121.7 452.6,126.6 455.4,130.3 458.3,133.4 461.2,134.7 464.0,136.5 466.9,137.8 469.7,139.0 472.6,140.3 475.5,140.9 478.3,141.5 481.2,141.5 484.1,140.9 486.9,137.8 489.8,69.6 492.7,67.8 495.5,70.9 498.4,77.1 501.3,84.5 504.1,90.7 507.0,96.9 509.8,101.8 512.7,106.8 515.6,111.8 518.4,160.7 521.3,167.5 524.2,166.3 527.0,165.0 529.9,163.8 532.8,162.6 535.6,161.3 538.5,160.1 541.4,158.9 544.2,157.6 547.1,89.5 549.9,86.4 552.8,90.7 555.7,95.7 558.5,100.6 561.4,105.6 564.3,110.5 567.1,115.5 570.0,121.7 572.9,129.7 575.7,162.6 578.6,168.8 581.5,167.5 584.3,165.7 587.2,163.8 590.1,161.9 592.9,160.7 595.8,159.5 598.6,158.9 601.5,157.6 604.4,92.6 607.2,90.7 610.1,93.2 613.0,98.1 615.8,103.7 618.7,110.5 621.6,116.7 624.4,122.9 627.3,129.1 630.2,135.3 633.0,163.8 635.9,168.8 638.7,168.1 641.6,167.5 644.5,165.7 647.3,164.4 650.2,163.2 653.1,161.9 655.9,160.7 658.8,160.1" fill="none" stroke="#7fa2da" stroke-width="2.4" stroke-linejoin="round"/>
<path d="M401.0,109.8l2.5,4.2h-4.9zM403.9,106.7l2.5,4.2h-4.9zM406.7,104.8l2.5,4.2h-4.9zM409.6,100.5l2.5,4.2h-4.9zM412.5,97.4l2.5,4.2h-4.9zM415.3,95.5l2.5,4.2h-4.9zM418.2,94.3l2.5,4.2h-4.9zM421.1,98.0l2.5,4.2h-4.9zM423.9,96.8l2.5,4.2h-4.9zM426.8,95.5l2.5,4.2h-4.9zM429.6,100.5l2.5,4.2h-4.9zM432.5,102.3l2.5,4.2h-4.9zM435.4,103.6l2.5,4.2h-4.9zM438.2,107.9l2.5,4.2h-4.9zM441.1,110.4l2.5,4.2h-4.9zM444.0,112.9l2.5,4.2h-4.9zM446.8,114.7l2.5,4.2h-4.9zM449.7,119.1l2.5,4.2h-4.9zM452.6,124.0l2.5,4.2h-4.9zM455.4,127.7l2.5,4.2h-4.9zM458.3,130.8l2.5,4.2h-4.9zM461.2,132.1l2.5,4.2h-4.9zM464.0,133.9l2.5,4.2h-4.9zM466.9,135.2l2.5,4.2h-4.9zM469.7,136.4l2.5,4.2h-4.9zM472.6,137.7l2.5,4.2h-4.9zM475.5,138.3l2.5,4.2h-4.9zM478.3,138.9l2.5,4.2h-4.9zM481.2,138.9l2.5,4.2h-4.9zM484.1,138.3l2.5,4.2h-4.9zM486.9,135.2l2.5,4.2h-4.9zM489.8,67.0l2.5,4.2h-4.9zM492.7,65.2l2.5,4.2h-4.9zM495.5,68.3l2.5,4.2h-4.9zM498.4,74.5l2.5,4.2h-4.9zM501.3,81.9l2.5,4.2h-4.9zM504.1,88.1l2.5,4.2h-4.9zM507.0,94.3l2.5,4.2h-4.9zM509.8,99.2l2.5,4.2h-4.9zM512.7,104.2l2.5,4.2h-4.9zM515.6,109.2l2.5,4.2h-4.9zM518.4,158.1l2.5,4.2h-4.9zM521.3,164.9l2.5,4.2h-4.9zM524.2,163.7l2.5,4.2h-4.9zM527.0,162.4l2.5,4.2h-4.9zM529.9,161.2l2.5,4.2h-4.9zM532.8,160.0l2.5,4.2h-4.9zM535.6,158.7l2.5,4.2h-4.9zM538.5,157.5l2.5,4.2h-4.9zM541.4,156.3l2.5,4.2h-4.9zM544.2,155.0l2.5,4.2h-4.9zM547.1,86.9l2.5,4.2h-4.9zM549.9,83.8l2.5,4.2h-4.9zM552.8,88.1l2.5,4.2h-4.9zM555.7,93.1l2.5,4.2h-4.9zM558.5,98.0l2.5,4.2h-4.9zM561.4,103.0l2.5,4.2h-4.9zM564.3,107.9l2.5,4.2h-4.9zM567.1,112.9l2.5,4.2h-4.9zM570.0,119.1l2.5,4.2h-4.9zM572.9,127.1l2.5,4.2h-4.9zM575.7,160.0l2.5,4.2h-4.9zM578.6,166.2l2.5,4.2h-4.9zM581.5,164.9l2.5,4.2h-4.9zM584.3,163.1l2.5,4.2h-4.9zM587.2,161.2l2.5,4.2h-4.9zM590.1,159.3l2.5,4.2h-4.9zM592.9,158.1l2.5,4.2h-4.9zM595.8,156.9l2.5,4.2h-4.9zM598.6,156.3l2.5,4.2h-4.9zM601.5,155.0l2.5,4.2h-4.9zM604.4,90.0l2.5,4.2h-4.9zM607.2,88.1l2.5,4.2h-4.9zM610.1,90.6l2.5,4.2h-4.9zM613.0,95.5l2.5,4.2h-4.9zM615.8,101.1l2.5,4.2h-4.9zM618.7,107.9l2.5,4.2h-4.9zM621.6,114.1l2.5,4.2h-4.9zM624.4,120.3l2.5,4.2h-4.9zM627.3,126.5l2.5,4.2h-4.9zM630.2,132.7l2.5,4.2h-4.9zM633.0,161.2l2.5,4.2h-4.9zM635.9,166.2l2.5,4.2h-4.9zM638.7,165.5l2.5,4.2h-4.9zM641.6,164.9l2.5,4.2h-4.9zM644.5,163.1l2.5,4.2h-4.9zM647.3,161.8l2.5,4.2h-4.9zM650.2,160.6l2.5,4.2h-4.9zM653.1,159.3l2.5,4.2h-4.9zM655.9,158.1l2.5,4.2h-4.9zM658.8,157.5l2.5,4.2h-4.9z" fill="#7fa2da"/>
<path d="M401.0,128.6V118.4M399.4,118.4h3.2M399.4,128.6h3.2M403.9,130.0V120.8M402.3,120.8h3.2M402.3,130.0h3.2M406.7,132.6V120.6M405.1,120.6h3.2M405.1,132.6h3.2M409.6,131.0V122.2M408.0,122.2h3.2M408.0,131.0h3.2M412.5,131.7V120.3M410.9,120.3h3.2M410.9,131.7h3.2M415.3,131.8V121.4M413.7,121.4h3.2M413.7,131.8h3.2M418.2,131.6V122.9M416.6,122.9h3.2M416.6,131.6h3.2M421.1,132.2V121.0M419.5,121.0h3.2M419.5,132.2h3.2M423.9,130.9V122.3M422.3,122.3h3.2M422.3,130.9h3.2M426.8,131.4V120.6M425.2,120.6h3.2M425.2,131.4h3.2M429.6,129.8V121.0M428.0,121.0h3.2M428.0,129.8h3.2M432.5,129.8V121.0M430.9,121.0h3.2M430.9,129.8h3.2M435.4,130.8V120.0M433.8,120.0h3.2M433.8,130.8h3.2M438.2,132.5V119.5M436.6,119.5h3.2M436.6,132.5h3.2M441.1,131.2V122.1M439.5,122.1h3.2M439.5,131.2h3.2M444.0,131.4V121.8M442.4,121.8h3.2M442.4,131.4h3.2M446.8,133.2V121.3M445.2,121.3h3.2M445.2,133.2h3.2M449.7,134.1V120.4M448.1,120.4h3.2M448.1,134.1h3.2M452.6,133.0V121.5M451.0,121.5h3.2M451.0,133.0h3.2M455.4,132.5V122.0M453.8,122.0h3.2M453.8,132.5h3.2M458.3,134.8V121.0M456.7,121.0h3.2M456.7,134.8h3.2M461.2,132.8V124.2M459.6,124.2h3.2M459.6,132.8h3.2M464.0,135.1V121.9M462.4,121.9h3.2M462.4,135.1h3.2M466.9,134.1V124.1M465.3,124.1h3.2M465.3,134.1h3.2M469.7,133.7V124.5M468.1,124.5h3.2M468.1,133.7h3.2M472.6,133.6V124.6M471.0,124.6h3.2M471.0,133.6h3.2M475.5,134.8V124.7M473.9,124.7h3.2M473.9,134.8h3.2M478.3,136.8V123.9M476.7,123.9h3.2M476.7,136.8h3.2M481.2,135.7V126.3M479.6,126.3h3.2M479.6,135.7h3.2M484.1,138.0V126.4M482.5,126.4h3.2M482.5,138.0h3.2M486.9,138.8V126.9M485.3,126.9h3.2M485.3,138.8h3.2M489.8,74.3V67.4M488.2,67.4h3.2M488.2,74.3h3.2M492.7,72.8V65.2M491.1,65.2h3.2M491.1,72.8h3.2M495.5,75.0V69.2M493.9,69.2h3.2M493.9,75.0h3.2M498.4,81.8V76.0M496.8,76.0h3.2M496.8,81.8h3.2M501.3,88.9V82.6M499.7,82.6h3.2M499.7,88.9h3.2M504.1,96.0V87.9M502.5,87.9h3.2M502.5,96.0h3.2M507.0,101.7V94.5M505.4,94.5h3.2M505.4,101.7h3.2M509.8,106.5V99.7M508.2,99.7h3.2M508.2,106.5h3.2M512.7,111.9V104.2M511.1,104.2h3.2M511.1,111.9h3.2M515.6,116.6V109.4M514.0,109.4h3.2M514.0,116.6h3.2M518.4,165.9V159.2M516.8,159.2h3.2M516.8,165.9h3.2M521.3,173.0V164.5M519.7,164.5h3.2M519.7,173.0h3.2M524.2,172.2V164.1M522.6,164.1h3.2M522.6,172.2h3.2M527.0,170.8V164.3M525.4,164.3h3.2M525.4,170.8h3.2M529.9,170.8V163.1M528.3,163.1h3.2M528.3,170.8h3.2M532.8,170.1V162.5M531.2,162.5h3.2M531.2,170.1h3.2M535.6,170.1V161.3M534.0,161.3h3.2M534.0,170.1h3.2M538.5,169.2V160.9M536.9,160.9h3.2M536.9,169.2h3.2M541.4,167.8V161.1M539.8,161.1h3.2M539.8,167.8h3.2M544.2,168.4V159.2M542.6,159.2h3.2M542.6,168.4h3.2M547.1,93.7V87.7M545.5,87.7h3.2M545.5,93.7h3.2M549.9,91.2V84.0M548.3,84.0h3.2M548.3,91.2h3.2M552.8,96.7V88.4M551.2,88.4h3.2M551.2,96.7h3.2M555.7,100.6V94.4M554.1,94.4h3.2M554.1,100.6h3.2M558.5,106.2V98.8M556.9,98.8h3.2M556.9,106.2h3.2M561.4,110.3V104.6M559.8,104.6h3.2M559.8,110.3h3.2M564.3,116.4V108.4M562.7,108.4h3.2M562.7,116.4h3.2M567.1,121.5V113.1M565.5,113.1h3.2M565.5,121.5h3.2M570.0,128.0V120.3M568.4,120.3h3.2M568.4,128.0h3.2M572.9,136.0V127.2M571.3,127.2h3.2M571.3,136.0h3.2M575.7,167.2V160.4M574.1,160.4h3.2M574.1,167.2h3.2M578.6,173.5V165.3M577.0,165.3h3.2M577.0,173.5h3.2M581.5,172.7V164.9M579.9,164.9h3.2M579.9,172.7h3.2M584.3,172.0V164.3M582.7,164.3h3.2M582.7,172.0h3.2M587.2,171.2V163.9M585.6,163.9h3.2M585.6,171.2h3.2M590.1,171.3V162.6M588.5,162.6h3.2M588.5,171.3h3.2M592.9,170.8V161.7M591.3,161.7h3.2M591.3,170.8h3.2M595.8,169.3V162.0M594.2,162.0h3.2M594.2,169.3h3.2M598.6,169.1V161.0M597.0,161.0h3.2M597.0,169.1h3.2M601.5,167.3V161.5M599.9,161.5h3.2M599.9,167.3h3.2M604.4,97.9V89.7M602.8,89.7h3.2M602.8,97.9h3.2M607.2,95.9V87.9M605.6,87.9h3.2M605.6,95.9h3.2M610.1,99.0V89.8M608.5,89.8h3.2M608.5,99.0h3.2M613.0,103.7V95.1M611.4,95.1h3.2M611.4,103.7h3.2M615.8,108.9V102.2M614.2,102.2h3.2M614.2,108.9h3.2M618.7,115.9V108.9M617.1,108.9h3.2M617.1,115.9h3.2M621.6,122.6V114.5M620.0,114.5h3.2M620.0,122.6h3.2M624.4,127.6V121.9M622.8,121.9h3.2M622.8,127.6h3.2M627.3,134.6V127.3M625.7,127.3h3.2M625.7,134.6h3.2M630.2,139.6V133.4M628.6,133.4h3.2M628.6,139.6h3.2M633.0,168.1V162.0M631.4,162.0h3.2M631.4,168.1h3.2M635.9,172.3V166.5M634.3,166.5h3.2M634.3,172.3h3.2M638.7,173.0V164.5M637.1,164.5h3.2M637.1,173.0h3.2M641.6,171.2V165.1M640.0,165.1h3.2M640.0,171.2h3.2M644.5,170.8V164.3M642.9,164.3h3.2M642.9,170.8h3.2M647.3,170.4V163.4M645.7,163.4h3.2M645.7,170.4h3.2M650.2,170.7V161.9M648.6,161.9h3.2M648.6,170.7h3.2M653.1,168.0V162.1M651.5,162.1h3.2M651.5,168.0h3.2M655.9,167.4V160.2M654.3,160.2h3.2M654.3,167.4h3.2M658.8,166.4V158.8M657.2,158.8h3.2M657.2,166.4h3.2" stroke="#858585" stroke-width="0.8" fill="none"/>
<polyline points="401.0,123.5 403.9,125.4 406.7,126.6 409.6,126.6 412.5,126.0 415.3,126.6 418.2,127.3 421.1,126.6 423.9,126.6 426.8,126.0 429.6,125.4 432.5,125.4 435.4,125.4 438.2,126.0 441.1,126.6 444.0,126.6 446.8,127.3 449.7,127.3 452.6,127.3 455.4,127.3 458.3,127.9 461.2,128.5 464.0,128.5 466.9,129.1 469.7,129.1 472.6,129.1 475.5,129.7 478.3,130.3 481.2,131.0 484.1,132.2 486.9,132.8 489.8,70.9 492.7,69.0 495.5,72.1 498.4,78.9 501.3,85.7 504.1,91.9 507.0,98.1 509.8,103.1 512.7,108.0 515.6,113.0 518.4,162.6 521.3,168.8 524.2,168.1 527.0,167.5 529.9,166.9 532.8,166.3 535.6,165.7 538.5,165.0 541.4,164.4 544.2,163.8 547.1,90.7 549.9,87.6 552.8,92.6 555.7,97.5 558.5,102.5 561.4,107.4 564.3,112.4 567.1,117.3 570.0,124.2 572.9,131.6 575.7,163.8 578.6,169.4 581.5,168.8 584.3,168.1 587.2,167.5 590.1,166.9 592.9,166.3 595.8,165.7 598.6,165.0 601.5,164.4 604.4,93.8 607.2,91.9 610.1,94.4 613.0,99.4 615.8,105.6 618.7,112.4 621.6,118.6 624.4,124.8 627.3,131.0 630.2,136.5 633.0,165.0 635.9,169.4 638.7,168.8 641.6,168.1 644.5,167.5 647.3,166.9 650.2,166.3 653.1,165.0 655.9,163.8 658.8,162.6" fill="none" stroke="#4a7bc3" stroke-width="2.4" stroke-linejoin="round"/>
<path d="M401.0,123.5h0M403.9,125.4h0M406.7,126.6h0M409.6,126.6h0M412.5,126.0h0M415.3,126.6h0M418.2,127.3h0M421.1,126.6h0M423.9,126.6h0M426.8,126.0h0M429.6,125.4h0M432.5,125.4h0M435.4,125.4h0M438.2,126.0h0M441.1,126.6h0M444.0,126.6h0M446.8,127.3h0M449.7,127.3h0M452.6,127.3h0M455.4,127.3h0M458.3,127.9h0M461.2,128.5h0M464.0,128.5h0M466.9,129.1h0M469.7,129.1h0M472.6,129.1h0M475.5,129.7h0M478.3,130.3h0M481.2,131.0h0M484.1,132.2h0M486.9,132.8h0M489.8,70.9h0M492.7,69.0h0M495.5,72.1h0M498.4,78.9h0M501.3,85.7h0M504.1,91.9h0M507.0,98.1h0M509.8,103.1h0M512.7,108.0h0M515.6,113.0h0M518.4,162.6h0M521.3,168.8h0M524.2,168.1h0M527.0,167.5h0M529.9,166.9h0M532.8,166.3h0M535.6,165.7h0M538.5,165.0h0M541.4,164.4h0M544.2,163.8h0M547.1,90.7h0M549.9,87.6h0M552.8,92.6h0M555.7,97.5h0M558.5,102.5h0M561.4,107.4h0M564.3,112.4h0M567.1,117.3h0M570.0,124.2h0M572.9,131.6h0M575.7,163.8h0M578.6,169.4h0M581.5,168.8h0M584.3,168.1h0M587.2,167.5h0M590.1,166.9h0M592.9,166.3h0M595.8,165.7h0M598.6,165.0h0M601.5,164.4h0M604.4,93.8h0M607.2,91.9h0M610.1,94.4h0M613.0,99.4h0M615.8,105.6h0M618.7,112.4h0M621.6,118.6h0M624.4,124.8h0M627.3,131.0h0M630.2,136.5h0M633.0,165.0h0M635.9,169.4h0M638.7,168.8h0M641.6,168.1h0M644.5,167.5h0M647.3,166.9h0M650.2,166.3h0M653.1,165.0h0M655.9,163.8h0M658.8,162.6h0" stroke="#4a7bc3" stroke-width="4.40" stroke-linecap="square" fill="none"/>
<path d="M401.0,121.6V113.1M399.4,113.1h3.2M399.4,121.6h3.2M403.9,122.8V110.6M402.3,110.6h3.2M402.3,122.8h3.2M406.7,119.5V111.4M405.1,111.4h3.2M405.1,119.5h3.2M409.6,120.3V109.4M408.0,109.4h3.2M408.0,120.3h3.2M412.5,123.1V115.3M410.9,115.3h3.2M410.9,123.1h3.2M415.3,126.0V117.3M413.7,117.3h3.2M413.7,126.0h3.2M418.2,130.3V118.0M416.6,118.0h3.2M416.6,130.3h3.2M421.1,130.9V122.4M419.5,122.4h3.2M419.5,130.9h3.2M423.9,134.4V123.8M422.3,123.8h3.2M422.3,134.4h3.2M426.8,136.4V126.7M425.2,126.7h3.2M425.2,136.4h3.2M429.6,139.5V129.8M428.0,129.8h3.2M428.0,139.5h3.2M432.5,142.1V132.2M430.9,132.2h3.2M430.9,142.1h3.2M435.4,142.6V134.2M433.8,134.2h3.2M433.8,142.6h3.2M438.2,142.3V130.8M436.6,130.8h3.2M436.6,142.3h3.2M441.1,136.8V128.9M439.5,128.9h3.2M439.5,136.8h3.2M444.0,136.5V127.9M442.4,127.9h3.2M442.4,136.5h3.2M446.8,135.4V127.8M445.2,127.8h3.2M445.2,135.4h3.2M449.7,137.8V129.1M448.1,129.1h3.2M448.1,137.8h3.2M452.6,137.6V128.1M451.0,128.1h3.2M451.0,137.6h3.2M455.4,136.9V125.0M453.8,125.0h3.2M453.8,136.9h3.2M458.3,135.0V125.7M456.7,125.7h3.2M456.7,135.0h3.2M461.2,135.0V127.0M459.6,127.0h3.2M459.6,135.0h3.2M464.0,135.9V127.2M462.4,127.2h3.2M462.4,135.9h3.2M466.9,139.0V126.7M465.3,126.7h3.2M465.3,139.0h3.2M469.7,138.6V130.8M468.1,130.8h3.2M468.1,138.6h3.2M472.6,140.6V130.1M471.0,130.1h3.2M471.0,140.6h3.2M475.5,138.7V129.4M473.9,129.4h3.2M473.9,138.7h3.2M478.3,138.2V127.5M476.7,127.5h3.2M476.7,138.2h3.2M481.2,138.6V129.5M479.6,129.5h3.2M479.6,138.6h3.2M484.1,143.2V132.4M482.5,132.4h3.2M482.5,143.2h3.2M486.9,140.3V130.4M485.3,130.4h3.2M485.3,140.3h3.2M489.8,85.4V77.4M488.2,77.4h3.2M488.2,85.4h3.2M492.7,80.9V72.0M491.1,72.0h3.2M491.1,80.9h3.2M495.5,82.2V74.4M493.9,74.4h3.2M493.9,82.2h3.2M498.4,88.2V82.1M496.8,82.1h3.2M496.8,88.2h3.2M501.3,93.6V87.8M499.7,87.8h3.2M499.7,93.6h3.2M504.1,101.4V92.3M502.5,92.3h3.2M502.5,101.4h3.2M507.0,104.3V96.9M505.4,96.9h3.2M505.4,104.3h3.2M509.8,108.7V102.4M508.2,102.4h3.2M508.2,108.7h3.2M512.7,115.1V106.0M511.1,106.0h3.2M511.1,115.1h3.2M515.6,118.7V111.0M514.0,111.0h3.2M514.0,118.7h3.2M518.4,161.8V153.5M516.8,153.5h3.2M516.8,161.8h3.2M521.3,173.8V165.0M519.7,165.0h3.2M519.7,173.8h3.2M524.2,172.1V165.4M522.6,165.4h3.2M522.6,172.1h3.2M527.0,171.6V164.7M525.4,164.7h3.2M525.4,171.6h3.2M529.9,171.3V162.5M528.3,162.5h3.2M528.3,171.3h3.2M532.8,168.1V162.0M531.2,162.0h3.2M531.2,168.1h3.2M535.6,167.4V159.0M534.0,159.0h3.2M534.0,167.4h3.2M538.5,164.3V158.4M536.9,158.4h3.2M536.9,164.3h3.2M541.4,163.5V155.4M539.8,155.4h3.2M539.8,163.5h3.2M544.2,161.7V153.5M542.6,153.5h3.2M542.6,161.7h3.2M547.1,100.8V91.7M545.5,91.7h3.2M545.5,100.8h3.2M549.9,90.7V82.0M548.3,82.0h3.2M548.3,90.7h3.2M552.8,97.5V90.1M551.2,90.1h3.2M551.2,97.5h3.2M555.7,101.3V95.0M554.1,95.0h3.2M554.1,101.3h3.2M558.5,105.5V99.4M556.9,99.4h3.2M556.9,105.5h3.2M561.4,110.6V103.0M559.8,103.0h3.2M559.8,110.6h3.2M564.3,115.5V108.0M562.7,108.0h3.2M562.7,115.5h3.2M567.1,119.6V113.8M565.5,113.8h3.2M565.5,119.6h3.2M570.0,129.9V120.9M568.4,120.9h3.2M568.4,129.9h3.2M572.9,139.0V131.6M571.3,131.6h3.2M571.3,139.0h3.2M575.7,161.7V153.5M574.1,153.5h3.2M574.1,161.7h3.2M578.6,172.0V165.6M577.0,165.6h3.2M577.0,172.0h3.2M581.5,173.2V166.8M579.9,166.8h3.2M579.9,173.2h3.2M584.3,170.3V164.7M582.7,164.7h3.2M582.7,170.3h3.2M587.2,169.1V162.2M585.6,162.2h3.2M585.6,169.1h3.2M590.1,167.1V160.5M588.5,160.5h3.2M588.5,167.1h3.2M592.9,166.1V159.0M591.3,159.0h3.2M591.3,166.1h3.2M595.8,164.8V157.8M594.2,157.8h3.2M594.2,164.8h3.2M598.6,165.0V156.4M597.0,156.4h3.2M597.0,165.0h3.2M601.5,164.5V155.6M599.9,155.6h3.2M599.9,164.5h3.2M604.4,98.1V91.9M602.8,91.9h3.2M602.8,98.1h3.2M607.2,97.3V90.3M605.6,90.3h3.2M605.6,97.3h3.2M610.1,99.4V93.2M608.5,93.2h3.2M608.5,99.4h3.2M613.0,104.6V96.6M611.4,96.6h3.2M611.4,104.6h3.2M615.8,113.9V104.7M614.2,104.7h3.2M614.2,113.9h3.2M618.7,118.6V112.3M617.1,112.3h3.2M617.1,118.6h3.2M621.6,124.6V116.2M620.0,116.2h3.2M620.0,124.6h3.2M624.4,128.7V122.0M622.8,122.0h3.2M622.8,128.7h3.2M627.3,134.4V128.8M625.7,128.8h3.2M625.7,134.4h3.2M630.2,141.4V133.0M628.6,133.0h3.2M628.6,141.4h3.2M633.0,164.1V157.3M631.4,157.3h3.2M631.4,164.1h3.2M635.9,171.9V165.7M634.3,165.7h3.2M634.3,171.9h3.2M638.7,171.7V164.5M637.1,164.5h3.2M637.1,171.7h3.2M641.6,170.7V164.3M640.0,164.3h3.2M640.0,170.7h3.2M644.5,169.8V162.7M642.9,162.7h3.2M642.9,169.8h3.2M647.3,168.0V160.8M645.7,160.8h3.2M645.7,168.0h3.2M650.2,166.1V159.0M648.6,159.0h3.2M648.6,166.1h3.2M653.1,165.2V157.4M651.5,157.4h3.2M651.5,165.2h3.2M655.9,163.4V156.8M654.3,156.8h3.2M654.3,163.4h3.2M658.8,162.4V156.5M657.2,156.5h3.2M657.2,162.4h3.2" stroke="#858585" stroke-width="0.8" fill="none"/>
<polyline points="401.0,117.3 403.9,116.7 406.7,115.5 409.6,114.9 412.5,119.2 415.3,121.7 418.2,124.2 421.1,126.6 423.9,129.1 426.8,131.6 429.6,134.7 432.5,137.2 435.4,138.4 438.2,136.5 441.1,132.8 444.0,132.2 446.8,131.6 449.7,133.4 452.6,132.8 455.4,131.0 458.3,130.3 461.2,131.0 464.0,131.6 466.9,132.8 469.7,134.7 472.6,135.3 475.5,134.1 478.3,132.8 481.2,134.1 484.1,137.8 486.9,135.3 489.8,81.4 492.7,76.4 495.5,78.3 498.4,85.1 501.3,90.7 504.1,96.9 507.0,100.6 509.8,105.6 512.7,110.5 515.6,114.9 518.4,157.6 521.3,169.4 524.2,168.8 527.0,168.1 529.9,166.9 532.8,165.0 535.6,163.2 538.5,161.3 541.4,159.5 544.2,157.6 547.1,96.3 549.9,86.4 552.8,93.8 555.7,98.1 558.5,102.5 561.4,106.8 564.3,111.8 567.1,116.7 570.0,125.4 572.9,135.3 575.7,157.6 578.6,168.8 581.5,170.0 584.3,167.5 587.2,165.7 590.1,163.8 592.9,162.6 595.8,161.3 598.6,160.7 601.5,160.1 604.4,95.0 607.2,93.8 610.1,96.3 613.0,100.6 615.8,109.3 618.7,115.5 621.6,120.4 624.4,125.4 627.3,131.6 630.2,137.2 633.0,160.7 635.9,168.8 638.7,168.1 641.6,167.5 644.5,166.3 647.3,164.4 650.2,162.6 653.1,161.3 655.9,160.1 658.8,159.5" fill="none" stroke="#132650" stroke-width="2.4" stroke-linejoin="round"/>
<path d="M401.0,117.3h0M403.9,116.7h0M406.7,115.5h0M409.6,114.9h0M412.5,119.2h0M415.3,121.7h0M418.2,124.2h0M421.1,126.6h0M423.9,129.1h0M426.8,131.6h0M429.6,134.7h0M432.5,137.2h0M435.4,138.4h0M438.2,136.5h0M441.1,132.8h0M444.0,132.2h0M446.8,131.6h0M449.7,133.4h0M452.6,132.8h0M455.4,131.0h0M458.3,130.3h0M461.2,131.0h0M464.0,131.6h0M466.9,132.8h0M469.7,134.7h0M472.6,135.3h0M475.5,134.1h0M478.3,132.8h0M481.2,134.1h0M484.1,137.8h0M486.9,135.3h0M489.8,81.4h0M492.7,76.4h0M495.5,78.3h0M498.4,85.1h0M501.3,90.7h0M504.1,96.9h0M507.0,100.6h0M509.8,105.6h0M512.7,110.5h0M515.6,114.9h0M518.4,157.6h0M521.3,169.4h0M524.2,168.8h0M527.0,168.1h0M529.9,166.9h0M532.8,165.0h0M535.6,163.2h0M538.5,161.3h0M541.4,159.5h0M544.2,157.6h0M547.1,96.3h0M549.9,86.4h0M552.8,93.8h0M555.7,98.1h0M558.5,102.5h0M561.4,106.8h0M564.3,111.8h0M567.1,116.7h0M570.0,125.4h0M572.9,135.3h0M575.7,157.6h0M578.6,168.8h0M581.5,170.0h0M584.3,167.5h0M587.2,165.7h0M590.1,163.8h0M592.9,162.6h0M595.8,161.3h0M598.6,160.7h0M601.5,160.1h0M604.4,95.0h0M607.2,93.8h0M610.1,96.3h0M613.0,100.6h0M615.8,109.3h0M618.7,115.5h0M621.6,120.4h0M624.4,125.4h0M627.3,131.6h0M630.2,137.2h0M633.0,160.7h0M635.9,168.8h0M638.7,168.1h0M641.6,167.5h0M644.5,166.3h0M647.3,164.4h0M650.2,162.6h0M653.1,161.3h0M655.9,160.1h0M658.8,159.5h0" stroke="#132650" stroke-width="5.40" stroke-linecap="round" fill="none"/>
<line x1="674.6" y1="92.20" x2="692.6" y2="92.20" stroke="#b4c7e7" stroke-width="2.3"/>
<path d="M683.6,89.2l3.0,3.0l-3.0,3.0l-3.0,-3.0z" fill="#b4c7e7"/>
<text x="693.4" y="95.00" font-family='"Liberation Sans", sans-serif' font-size="7.7" fill="#333" letter-spacing="0.15">Control</text>
<line x1="674.6" y1="105.60" x2="692.6" y2="105.60" stroke="#7fa2da" stroke-width="2.3"/>
<path d="M683.6,102.5l3.0,5.0h-5.9z" fill="#7fa2da"/>
<text x="693.4" y="108.40" font-family='"Liberation Sans", sans-serif' font-size="7.7" fill="#333" letter-spacing="0.15">1 µM</text>
<line x1="674.6" y1="119.00" x2="692.6" y2="119.00" stroke="#4a7bc3" stroke-width="2.3"/>
<path d="M683.6,119.0h0" stroke="#4a7bc3" stroke-width="5.28" stroke-linecap="square" fill="none"/>
<text x="693.4" y="121.80" font-family='"Liberation Sans", sans-serif' font-size="7.7" fill="#333" letter-spacing="0.15">3 µM</text>
<line x1="674.6" y1="132.40" x2="692.6" y2="132.40" stroke="#132650" stroke-width="2.3"/>
<path d="M683.6,132.4h0" stroke="#132650" stroke-width="6.48" stroke-linecap="round" fill="none"/>
<text x="693.4" y="135.20" font-family='"Liberation Sans", sans-serif' font-size="7.7" fill="#333" letter-spacing="0.15">10 µM</text>
<text x="1.5" y="217.8" font-family='"Liberation Sans", sans-serif' font-size="12.5" font-weight="normal" fill="#111">C</text>
<rect x="37.30" y="253.39" width="21.50" height="61.41" fill="#ffffff" stroke="#333" stroke-width="1.05"/>
<path d="M48.05,253.39V248.56M42.75,248.56H53.35" stroke="#333" stroke-width="1.1" fill="none"/>
<rect x="68.50" y="263.74" width="21.50" height="51.06" fill="#d4d4d4" stroke="#333" stroke-width="1.05"/>
<path d="M79.25,263.74V258.91M73.95,258.91H84.55" stroke="#333" stroke-width="1.1" fill="none"/>
<rect x="99.80" y="277.54" width="21.50" height="37.26" fill="#7f7f7f" stroke="#333" stroke-width="1.05"/>
<path d="M110.55,277.54V272.71M105.25,272.71H115.85" stroke="#333" stroke-width="1.1" fill="none"/>
<text x="110.55" y="267.11" font-family='"Liberation Sans", sans-serif' font-size="7.6" font-weight="bold" fill="#222" text-anchor="middle">**</text>
<rect x="131.30" y="270.64" width="21.50" height="44.16" fill="#000000" stroke="#333" stroke-width="1.05"/>
<path d="M142.05,270.64V265.40M136.75,265.40H147.35" stroke="#333" stroke-width="1.1" fill="none"/>
<text x="142.05" y="259.80" font-family='"Liberation Sans", sans-serif' font-size="7.6" font-weight="bold" fill="#222" text-anchor="middle">*</text>
<path d="M32.70,232.00V314.80H156.30" stroke="#555" stroke-width="1.2" fill="none"/>
<line x1="29.70" y1="314.80" x2="32.70" y2="314.80" stroke="#555" stroke-width="1"/>
<text x="29.90" y="317.10" font-family='"Liberation Sans", sans-serif' font-size="6.4" font-weight="bold" fill="#111" text-anchor="end">0</text>
<line x1="29.70" y1="287.20" x2="32.70" y2="287.20" stroke="#555" stroke-width="1"/>
<text x="29.90" y="289.50" font-family='"Liberation Sans", sans-serif' font-size="6.4" font-weight="bold" fill="#111" text-anchor="end">2000</text>
<line x1="29.70" y1="259.60" x2="32.70" y2="259.60" stroke="#555" stroke-width="1"/>
<text x="29.90" y="261.90" font-family='"Liberation Sans", sans-serif' font-size="6.4" font-weight="bold" fill="#111" text-anchor="end">4000</text>
<line x1="29.70" y1="232.00" x2="32.70" y2="232.00" stroke="#555" stroke-width="1"/>
<text x="29.90" y="234.30" font-family='"Liberation Sans", sans-serif' font-size="6.4" font-weight="bold" fill="#111" text-anchor="end">6000</text>
<line x1="48.05" y1="314.80" x2="48.05" y2="317.80" stroke="#555" stroke-width="1"/>
<text transform="translate(49.05,323.80) rotate(-45)" font-family='"Liberation Sans", sans-serif' font-size="6.2" font-weight="bold" fill="#111" text-anchor="end">Control</text>
<line x1="79.25" y1="314.80" x2="79.25" y2="317.80" stroke="#555" stroke-width="1"/>
<text transform="translate(80.25,323.80) rotate(-45)" font-family='"Liberation Sans", sans-serif' font-size="6.2" font-weight="bold" fill="#111" text-anchor="end">1 µM</text>
<line x1="110.55" y1="314.80" x2="110.55" y2="317.80" stroke="#555" stroke-width="1"/>
<text transform="translate(111.55,323.80) rotate(-45)" font-family='"Liberation Sans", sans-serif' font-size="6.2" font-weight="bold" fill="#111" text-anchor="end">3 µM</text>
<line x1="142.05" y1="314.80" x2="142.05" y2="317.80" stroke="#555" stroke-width="1"/>
<text transform="translate(143.05,323.80) rotate(-45)" font-family='"Liberation Sans", sans-serif' font-size="6.2" font-weight="bold" fill="#111" text-anchor="end">10 µM</text>
<text transform="translate(6.20,273.40) rotate(-90)" font-family='"Liberation Sans", sans-serif' font-size="6.4" font-weight="bold" fill="#111" text-anchor="middle">Total Distance Moved (mm)</text>
<text x="173.8" y="217.5" font-family='"Liberation Sans", sans-serif' font-size="12.5" font-weight="normal" fill="#111">D</text>
<rect x="209.50" y="274.44" width="21.50" height="40.37" fill="#ffffff" stroke="#333" stroke-width="1.05"/>
<path d="M220.25,274.44V271.95M214.95,271.95H225.55" stroke="#333" stroke-width="1.1" fill="none"/>
<rect x="241.00" y="263.88" width="21.50" height="50.92" fill="#d4d4d4" stroke="#333" stroke-width="1.05"/>
<path d="M251.75,263.88V259.94M246.45,259.94H257.05" stroke="#333" stroke-width="1.1" fill="none"/>
<rect x="272.20" y="251.46" width="21.50" height="63.34" fill="#7f7f7f" stroke="#333" stroke-width="1.05"/>
<path d="M282.95,251.46V246.08M277.65,246.08H288.25" stroke="#333" stroke-width="1.1" fill="none"/>
<text x="282.95" y="240.48" font-family='"Liberation Sans", sans-serif' font-size="7.6" font-weight="bold" fill="#222" text-anchor="middle">**</text>
<rect x="303.50" y="257.67" width="21.50" height="57.13" fill="#000000" stroke="#333" stroke-width="1.05"/>
<path d="M314.25,257.67V252.29M308.95,252.29H319.55" stroke="#333" stroke-width="1.1" fill="none"/>
<text x="314.25" y="246.69" font-family='"Liberation Sans", sans-serif' font-size="7.6" font-weight="bold" fill="#222" text-anchor="middle">*</text>
<path d="M205.30,232.00V314.80H328.50" stroke="#555" stroke-width="1.2" fill="none"/>
<line x1="202.30" y1="314.80" x2="205.30" y2="314.80" stroke="#555" stroke-width="1"/>
<text x="202.50" y="317.10" font-family='"Liberation Sans", sans-serif' font-size="6.4" font-weight="bold" fill="#111" text-anchor="end">0</text>
<line x1="202.30" y1="294.10" x2="205.30" y2="294.10" stroke="#555" stroke-width="1"/>
<text x="202.50" y="296.40" font-family='"Liberation Sans", sans-serif' font-size="6.4" font-weight="bold" fill="#111" text-anchor="end">500</text>
<line x1="202.30" y1="273.40" x2="205.30" y2="273.40" stroke="#555" stroke-width="1"/>
<text x="202.50" y="275.70" font-family='"Liberation Sans", sans-serif' font-size="6.4" font-weight="bold" fill="#111" text-anchor="end">1000</text>
<line x1="202.30" y1="252.70" x2="205.30" y2="252.70" stroke="#555" stroke-width="1"/>
<text x="202.50" y="255.00" font-family='"Liberation Sans", sans-serif' font-size="6.4" font-weight="bold" fill="#111" text-anchor="end">1500</text>
<line x1="202.30" y1="232.00" x2="205.30" y2="232.00" stroke="#555" stroke-width="1"/>
<text x="202.50" y="234.30" font-family='"Liberation Sans", sans-serif' font-size="6.4" font-weight="bold" fill="#111" text-anchor="end">2000</text>
<line x1="220.25" y1="314.80" x2="220.25" y2="317.80" stroke="#555" stroke-width="1"/>
<text transform="translate(221.25,323.80) rotate(-45)" font-family='"Liberation Sans", sans-serif' font-size="6.2" font-weight="bold" fill="#111" text-anchor="end">Control</text>
<line x1="251.75" y1="314.80" x2="251.75" y2="317.80" stroke="#555" stroke-width="1"/>
<text transform="translate(252.75,323.80) rotate(-45)" font-family='"Liberation Sans", sans-serif' font-size="6.2" font-weight="bold" fill="#111" text-anchor="end">1 µM</text>
<line x1="282.95" y1="314.80" x2="282.95" y2="317.80" stroke="#555" stroke-width="1"/>
<text transform="translate(283.95,323.80) rotate(-45)" font-family='"Liberation Sans", sans-serif' font-size="6.2" font-weight="bold" fill="#111" text-anchor="end">3 µM</text>
<line x1="314.25" y1="314.80" x2="314.25" y2="317.80" stroke="#555" stroke-width="1"/>
<text transform="translate(315.25,323.80) rotate(-45)" font-family='"Liberation Sans", sans-serif' font-size="6.2" font-weight="bold" fill="#111" text-anchor="end">10 µM</text>
<text transform="translate(179.30,273.40) rotate(-90)" font-family='"Liberation Sans", sans-serif' font-size="5.8" font-weight="bold" fill="#111" text-anchor="middle">Degrees/s</text>
<text x="380.3" y="217.2" font-family='"Liberation Sans", sans-serif' font-size="12.5" font-weight="normal" fill="#111">E</text>
<rect x="415.40" y="249.25" width="21.50" height="65.55" fill="#ffffff" stroke="#333" stroke-width="1.05"/>
<path d="M426.15,249.25V244.70M420.85,244.70H431.45" stroke="#333" stroke-width="1.1" fill="none"/>
<rect x="446.30" y="277.54" width="21.50" height="37.26" fill="#d4d4d4" stroke="#333" stroke-width="1.05"/>
<path d="M457.05,277.54V274.37M451.75,274.37H462.35" stroke="#333" stroke-width="1.1" fill="none"/>
<text x="457.05" y="268.77" font-family='"Liberation Sans", sans-serif' font-size="7.6" font-weight="bold" fill="#222" text-anchor="middle">***</text>
<rect x="477.60" y="283.34" width="21.50" height="31.46" fill="#7f7f7f" stroke="#333" stroke-width="1.05"/>
<path d="M488.35,283.34V279.47M483.05,279.47H493.65" stroke="#333" stroke-width="1.1" fill="none"/>
<text x="488.35" y="273.87" font-family='"Liberation Sans", sans-serif' font-size="7.6" font-weight="bold" fill="#222" text-anchor="middle">***</text>
<rect x="508.90" y="284.44" width="21.50" height="30.36" fill="#000000" stroke="#333" stroke-width="1.05"/>
<path d="M519.65,284.44V281.27M514.35,281.27H524.95" stroke="#333" stroke-width="1.1" fill="none"/>
<text x="519.65" y="275.67" font-family='"Liberation Sans", sans-serif' font-size="7.6" font-weight="bold" fill="#222" text-anchor="middle">***</text>
<path d="M410.00,232.00V314.80H533.90" stroke="#555" stroke-width="1.2" fill="none"/>
<line x1="407.00" y1="314.80" x2="410.00" y2="314.80" stroke="#555" stroke-width="1"/>
<text x="407.20" y="317.10" font-family='"Liberation Sans", sans-serif' font-size="6.4" font-weight="bold" fill="#111" text-anchor="end">0</text>
<line x1="407.00" y1="287.20" x2="410.00" y2="287.20" stroke="#555" stroke-width="1"/>
<text x="407.20" y="289.50" font-family='"Liberation Sans", sans-serif' font-size="6.4" font-weight="bold" fill="#111" text-anchor="end">2000</text>
<line x1="407.00" y1="259.60" x2="410.00" y2="259.60" stroke="#555" stroke-width="1"/>
<text x="407.20" y="261.90" font-family='"Liberation Sans", sans-serif' font-size="6.4" font-weight="bold" fill="#111" text-anchor="end">4000</text>
<line x1="407.00" y1="232.00" x2="410.00" y2="232.00" stroke="#555" stroke-width="1"/>
<text x="407.20" y="234.30" font-family='"Liberation Sans", sans-serif' font-size="6.4" font-weight="bold" fill="#111" text-anchor="end">6000</text>
<line x1="426.15" y1="314.80" x2="426.15" y2="317.80" stroke="#555" stroke-width="1"/>
<text transform="translate(427.15,323.80) rotate(-45)" font-family='"Liberation Sans", sans-serif' font-size="6.2" font-weight="bold" fill="#111" text-anchor="end">Control</text>
<line x1="457.05" y1="314.80" x2="457.05" y2="317.80" stroke="#555" stroke-width="1"/>
<text transform="translate(458.05,323.80) rotate(-45)" font-family='"Liberation Sans", sans-serif' font-size="6.2" font-weight="bold" fill="#111" text-anchor="end">1 µM</text>
<line x1="488.35" y1="314.80" x2="488.35" y2="317.80" stroke="#555" stroke-width="1"/>
<text transform="translate(489.35,323.80) rotate(-45)" font-family='"Liberation Sans", sans-serif' font-size="6.2" font-weight="bold" fill="#111" text-anchor="end">3 µM</text>
<line x1="519.65" y1="314.80" x2="519.65" y2="317.80" stroke="#555" stroke-width="1"/>
<text transform="translate(520.65,323.80) rotate(-45)" font-family='"Liberation Sans", sans-serif' font-size="6.2" font-weight="bold" fill="#111" text-anchor="end">10 µM</text>
<text transform="translate(385.40,273.40) rotate(-90)" font-family='"Liberation Sans", sans-serif' font-size="6.85" font-weight="bold" fill="#111" text-anchor="middle">Total Distance Moved (mm)</text>
<text x="561.9" y="217.4" font-family='"Liberation Sans", sans-serif' font-size="13" fill="#111" stroke="#111" stroke-width="0.35" textLength="6.6" lengthAdjust="spacingAndGlyphs">F</text>
<rect x="598.20" y="285.44" width="21.00" height="29.56" fill="#ffffff" stroke="#333" stroke-width="1.05"/>
<path d="M608.70,285.44V284.71M603.40,284.71H614.00" stroke="#333" stroke-width="1.1" fill="none"/>
<rect x="629.30" y="270.58" width="21.00" height="44.42" fill="#d4d4d4" stroke="#333" stroke-width="1.05"/>
<path d="M639.80,270.58V266.57M634.50,266.57H645.10" stroke="#333" stroke-width="1.1" fill="none"/>
<text x="639.80" y="260.97" font-family='"Liberation Sans", sans-serif' font-size="7.6" font-weight="bold" fill="#222" text-anchor="middle">*</text>
<rect x="660.50" y="264.90" width="21.00" height="50.10" fill="#7f7f7f" stroke="#333" stroke-width="1.05"/>
<path d="M671.00,264.90V260.39M665.70,260.39H676.30" stroke="#333" stroke-width="1.1" fill="none"/>
<text x="671.00" y="254.79" font-family='"Liberation Sans", sans-serif' font-size="7.6" font-weight="bold" fill="#222" text-anchor="middle">**</text>
<rect x="691.80" y="256.72" width="21.00" height="58.28" fill="#000000" stroke="#333" stroke-width="1.05"/>
<path d="M702.30,256.72V251.71M697.00,251.71H707.60" stroke="#333" stroke-width="1.1" fill="none"/>
<text x="702.30" y="246.11" font-family='"Liberation Sans", sans-serif' font-size="7.6" font-weight="bold" fill="#222" text-anchor="middle">***</text>
<path d="M593.00,231.50V315.00H716.30" stroke="#555" stroke-width="1.2" fill="none"/>
<line x1="590.00" y1="315.00" x2="593.00" y2="315.00" stroke="#555" stroke-width="1"/>
<text x="590.20" y="317.30" font-family='"Liberation Sans", sans-serif' font-size="6.4" font-weight="bold" fill="#111" text-anchor="end">0</text>
<line x1="590.00" y1="298.30" x2="593.00" y2="298.30" stroke="#555" stroke-width="1"/>
<text x="590.20" y="300.60" font-family='"Liberation Sans", sans-serif' font-size="6.4" font-weight="bold" fill="#111" text-anchor="end">500</text>
<line x1="590.00" y1="281.60" x2="593.00" y2="281.60" stroke="#555" stroke-width="1"/>
<text x="590.20" y="283.90" font-family='"Liberation Sans", sans-serif' font-size="6.4" font-weight="bold" fill="#111" text-anchor="end">1000</text>
<line x1="590.00" y1="264.90" x2="593.00" y2="264.90" stroke="#555" stroke-width="1"/>
<text x="590.20" y="267.20" font-family='"Liberation Sans", sans-serif' font-size="6.4" font-weight="bold" fill="#111" text-anchor="end">1500</text>
<line x1="590.00" y1="248.20" x2="593.00" y2="248.20" stroke="#555" stroke-width="1"/>
<text x="590.20" y="250.50" font-family='"Liberation Sans", sans-serif' font-size="6.4" font-weight="bold" fill="#111" text-anchor="end">2000</text>
<line x1="590.00" y1="231.50" x2="593.00" y2="231.50" stroke="#555" stroke-width="1"/>
<text x="590.20" y="233.80" font-family='"Liberation Sans", sans-serif' font-size="6.4" font-weight="bold" fill="#111" text-anchor="end">2500</text>
<line x1="608.70" y1="315.00" x2="608.70" y2="318.00" stroke="#555" stroke-width="1"/>
<text transform="translate(609.70,324.00) rotate(-45)" font-family='"Liberation Sans", sans-serif' font-size="6.2" font-weight="bold" fill="#111" text-anchor="end">Control</text>
<line x1="639.80" y1="315.00" x2="639.80" y2="318.00" stroke="#555" stroke-width="1"/>
<text transform="translate(640.80,324.00) rotate(-45)" font-family='"Liberation Sans", sans-serif' font-size="6.2" font-weight="bold" fill="#111" text-anchor="end">1 µM</text>
<line x1="671.00" y1="315.00" x2="671.00" y2="318.00" stroke="#555" stroke-width="1"/>
<text transform="translate(672.00,324.00) rotate(-45)" font-family='"Liberation Sans", sans-serif' font-size="6.2" font-weight="bold" fill="#111" text-anchor="end">3 µM</text>
<line x1="702.30" y1="315.00" x2="702.30" y2="318.00" stroke="#555" stroke-width="1"/>
<text transform="translate(703.30,324.00) rotate(-45)" font-family='"Liberation Sans", sans-serif' font-size="6.2" font-weight="bold" fill="#111" text-anchor="end">10 µM</text>
<text transform="translate(567.00,273.25) rotate(-90)" font-family='"Liberation Sans", sans-serif' font-size="5.8" font-weight="bold" fill="#111" text-anchor="middle">Degrees/s</text>
</svg></body></html>
